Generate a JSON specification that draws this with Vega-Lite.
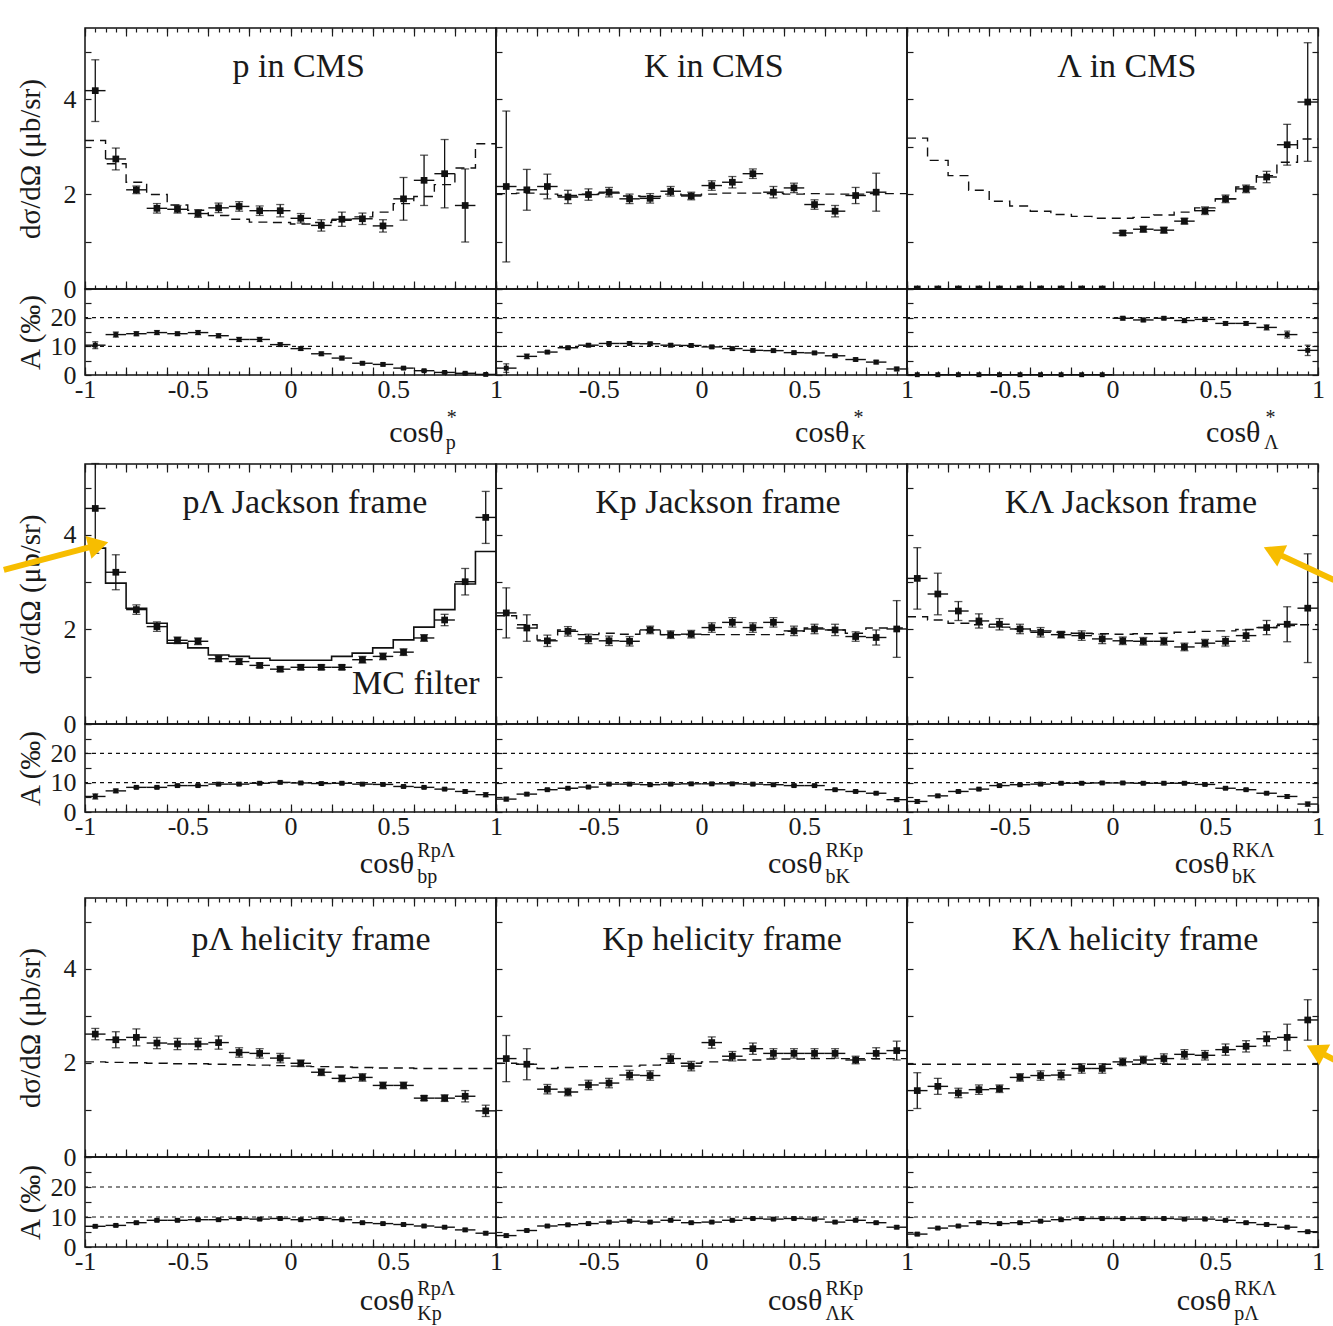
{
"$schema":"https://vega.github.io/schema/vega-lite/v6.json",
"background":"white",
"padding":{"left":0,"top":26,"right":0,"bottom":0},
"config":{"view":{"stroke":"#111","strokeWidth":1.5},"font":"Liberation Serif",
"axis":{"domain":false,"grid":false,"labelFont":"Liberation Serif","labelFontSize":26,"labelColor":"#1a1a1a","tickColor":"#1a1a1a","tickWidth":1.2,"titleFont":"Liberation Serif","titleFontSize":29,"titleFontWeight":"normal","titleColor":"#1a1a1a","labelFlush":false,"labelOverlap":false,"labelBound":false},
"text":{"font":"Liberation Serif","color":"#1a1a1a"}},
"datasets":{
"pts":[
{"p":1,"x":-0.95,"y":4.18,"e":0.65},{"p":1,"x":-0.85,"y":2.74,"e":0.23},{"p":1,"x":-0.75,"y":2.09,"e":0.08},{"p":1,"x":-0.65,"y":1.7,"e":0.1},{"p":1,"x":-0.55,"y":1.68,"e":0.08},{"p":1,"x":-0.45,"y":1.59,"e":0.08},{"p":1,"x":-0.35,"y":1.71,"e":0.1},{"p":1,"x":-0.25,"y":1.74,"e":0.1},{"p":1,"x":-0.15,"y":1.65,"e":0.1},{"p":1,"x":-0.05,"y":1.65,"e":0.13},{"p":1,"x":0.05,"y":1.49,"e":0.1},{"p":1,"x":0.15,"y":1.34,"e":0.12},{"p":1,"x":0.25,"y":1.47,"e":0.15},{"p":1,"x":0.35,"y":1.48,"e":0.12},{"p":1,"x":0.45,"y":1.33,"e":0.13},{"p":1,"x":0.55,"y":1.9,"e":0.45},{"p":1,"x":0.65,"y":2.29,"e":0.53},{"p":1,"x":0.75,"y":2.43,"e":0.72},{"p":1,"x":0.85,"y":1.76,"e":0.77},
{"p":2,"x":-0.95,"y":2.16,"e":1.59},{"p":2,"x":-0.85,"y":2.09,"e":0.43},{"p":2,"x":-0.75,"y":2.16,"e":0.26},{"p":2,"x":-0.65,"y":1.94,"e":0.14},{"p":2,"x":-0.55,"y":1.99,"e":0.12},{"p":2,"x":-0.45,"y":2.04,"e":0.1},{"p":2,"x":-0.35,"y":1.9,"e":0.1},{"p":2,"x":-0.25,"y":1.91,"e":0.1},{"p":2,"x":-0.15,"y":2.06,"e":0.1},{"p":2,"x":-0.05,"y":1.96,"e":0.08},{"p":2,"x":0.05,"y":2.18,"e":0.1},{"p":2,"x":0.15,"y":2.25,"e":0.12},{"p":2,"x":0.25,"y":2.43,"e":0.1},{"p":2,"x":0.35,"y":2.04,"e":0.12},{"p":2,"x":0.45,"y":2.13,"e":0.1},{"p":2,"x":0.55,"y":1.78,"e":0.1},{"p":2,"x":0.65,"y":1.64,"e":0.12},{"p":2,"x":0.75,"y":1.97,"e":0.17},{"p":2,"x":0.85,"y":2.04,"e":0.4},
{"p":3,"x":-0.95,"y":0,"e":0},{"p":3,"x":-0.85,"y":0,"e":0},{"p":3,"x":-0.75,"y":0,"e":0},{"p":3,"x":-0.65,"y":0,"e":0},{"p":3,"x":-0.55,"y":0,"e":0},{"p":3,"x":-0.45,"y":0,"e":0},{"p":3,"x":-0.35,"y":0,"e":0},{"p":3,"x":-0.25,"y":0,"e":0},{"p":3,"x":-0.15,"y":0,"e":0},{"p":3,"x":-0.05,"y":0,"e":0},{"p":3,"x":0.05,"y":1.18,"e":0.05},{"p":3,"x":0.15,"y":1.26,"e":0.06},{"p":3,"x":0.25,"y":1.24,"e":0.06},{"p":3,"x":0.35,"y":1.43,"e":0.06},{"p":3,"x":0.45,"y":1.65,"e":0.08},{"p":3,"x":0.55,"y":1.9,"e":0.08},{"p":3,"x":0.65,"y":2.11,"e":0.08},{"p":3,"x":0.75,"y":2.36,"e":0.12},{"p":3,"x":0.85,"y":3.04,"e":0.43},{"p":3,"x":0.95,"y":3.94,"e":1.25},
{"p":4,"x":-0.95,"y":4.56,"e":0.95},{"p":4,"x":-0.85,"y":3.21,"e":0.37},{"p":4,"x":-0.75,"y":2.42,"e":0.1},{"p":4,"x":-0.65,"y":2.06,"e":0.1},{"p":4,"x":-0.55,"y":1.77,"e":0.07},{"p":4,"x":-0.45,"y":1.75,"e":0.07},{"p":4,"x":-0.35,"y":1.38,"e":0.06},{"p":4,"x":-0.25,"y":1.32,"e":0.06},{"p":4,"x":-0.15,"y":1.24,"e":0.05},{"p":4,"x":-0.05,"y":1.16,"e":0.05},{"p":4,"x":0.05,"y":1.2,"e":0.05},{"p":4,"x":0.15,"y":1.2,"e":0.05},{"p":4,"x":0.25,"y":1.2,"e":0.05},{"p":4,"x":0.35,"y":1.36,"e":0.07},{"p":4,"x":0.45,"y":1.43,"e":0.07},{"p":4,"x":0.55,"y":1.52,"e":0.07},{"p":4,"x":0.65,"y":1.82,"e":0.07},{"p":4,"x":0.75,"y":2.2,"e":0.12},{"p":4,"x":0.85,"y":3.01,"e":0.28},{"p":4,"x":0.95,"y":4.37,"e":0.55},
{"p":5,"x":-0.95,"y":2.35,"e":0.53},{"p":5,"x":-0.85,"y":2.03,"e":0.28},{"p":5,"x":-0.75,"y":1.76,"e":0.12},{"p":5,"x":-0.65,"y":1.96,"e":0.1},{"p":5,"x":-0.55,"y":1.8,"e":0.1},{"p":5,"x":-0.45,"y":1.76,"e":0.1},{"p":5,"x":-0.35,"y":1.75,"e":0.1},{"p":5,"x":-0.25,"y":1.99,"e":0.08},{"p":5,"x":-0.15,"y":1.89,"e":0.08},{"p":5,"x":-0.05,"y":1.9,"e":0.08},{"p":5,"x":0.05,"y":2.04,"e":0.1},{"p":5,"x":0.15,"y":2.15,"e":0.1},{"p":5,"x":0.25,"y":2.04,"e":0.1},{"p":5,"x":0.35,"y":2.15,"e":0.1},{"p":5,"x":0.45,"y":1.97,"e":0.1},{"p":5,"x":0.55,"y":2.01,"e":0.1},{"p":5,"x":0.65,"y":1.99,"e":0.12},{"p":5,"x":0.75,"y":1.85,"e":0.1},{"p":5,"x":0.85,"y":1.83,"e":0.16},{"p":5,"x":0.95,"y":2.01,"e":0.6},
{"p":6,"x":-0.95,"y":3.08,"e":0.65},{"p":6,"x":-0.85,"y":2.75,"e":0.44},{"p":6,"x":-0.75,"y":2.39,"e":0.2},{"p":6,"x":-0.65,"y":2.18,"e":0.15},{"p":6,"x":-0.55,"y":2.11,"e":0.12},{"p":6,"x":-0.45,"y":2.01,"e":0.1},{"p":6,"x":-0.35,"y":1.94,"e":0.1},{"p":6,"x":-0.25,"y":1.89,"e":0.07},{"p":6,"x":-0.15,"y":1.87,"e":0.1},{"p":6,"x":-0.05,"y":1.8,"e":0.1},{"p":6,"x":0.05,"y":1.76,"e":0.08},{"p":6,"x":0.15,"y":1.75,"e":0.08},{"p":6,"x":0.25,"y":1.75,"e":0.08},{"p":6,"x":0.35,"y":1.63,"e":0.08},{"p":6,"x":0.45,"y":1.71,"e":0.08},{"p":6,"x":0.55,"y":1.75,"e":0.1},{"p":6,"x":0.65,"y":1.87,"e":0.12},{"p":6,"x":0.75,"y":2.04,"e":0.15},{"p":6,"x":0.85,"y":2.11,"e":0.37},{"p":6,"x":0.95,"y":2.45,"e":1.15},
{"p":7,"x":-0.95,"y":2.61,"e":0.12},{"p":7,"x":-0.85,"y":2.49,"e":0.17},{"p":7,"x":-0.75,"y":2.54,"e":0.18},{"p":7,"x":-0.65,"y":2.42,"e":0.12},{"p":7,"x":-0.55,"y":2.4,"e":0.12},{"p":7,"x":-0.45,"y":2.4,"e":0.12},{"p":7,"x":-0.35,"y":2.43,"e":0.14},{"p":7,"x":-0.25,"y":2.22,"e":0.1},{"p":7,"x":-0.15,"y":2.2,"e":0.1},{"p":7,"x":-0.05,"y":2.1,"e":0.1},{"p":7,"x":0.05,"y":1.99,"e":0.07},{"p":7,"x":0.15,"y":1.8,"e":0.07},{"p":7,"x":0.25,"y":1.67,"e":0.07},{"p":7,"x":0.35,"y":1.69,"e":0.08},{"p":7,"x":0.45,"y":1.52,"e":0.07},{"p":7,"x":0.55,"y":1.52,"e":0.07},{"p":7,"x":0.65,"y":1.25,"e":0.05},{"p":7,"x":0.75,"y":1.25,"e":0.07},{"p":7,"x":0.85,"y":1.29,"e":0.12},{"p":7,"x":0.95,"y":0.98,"e":0.12},
{"p":8,"x":-0.95,"y":2.09,"e":0.49},{"p":8,"x":-0.85,"y":1.97,"e":0.33},{"p":8,"x":-0.75,"y":1.44,"e":0.1},{"p":8,"x":-0.65,"y":1.38,"e":0.08},{"p":8,"x":-0.55,"y":1.53,"e":0.1},{"p":8,"x":-0.45,"y":1.57,"e":0.1},{"p":8,"x":-0.35,"y":1.74,"e":0.1},{"p":8,"x":-0.25,"y":1.73,"e":0.1},{"p":8,"x":-0.15,"y":2.09,"e":0.1},{"p":8,"x":-0.05,"y":1.93,"e":0.1},{"p":8,"x":0.05,"y":2.43,"e":0.12},{"p":8,"x":0.15,"y":2.14,"e":0.1},{"p":8,"x":0.25,"y":2.3,"e":0.12},{"p":8,"x":0.35,"y":2.2,"e":0.1},{"p":8,"x":0.45,"y":2.2,"e":0.1},{"p":8,"x":0.55,"y":2.2,"e":0.1},{"p":8,"x":0.65,"y":2.2,"e":0.1},{"p":8,"x":0.75,"y":2.06,"e":0.08},{"p":8,"x":0.85,"y":2.2,"e":0.12},{"p":8,"x":0.95,"y":2.26,"e":0.2},
{"p":9,"x":-0.95,"y":1.41,"e":0.38},{"p":9,"x":-0.85,"y":1.5,"e":0.17},{"p":9,"x":-0.75,"y":1.36,"e":0.1},{"p":9,"x":-0.65,"y":1.43,"e":0.1},{"p":9,"x":-0.55,"y":1.45,"e":0.08},{"p":9,"x":-0.45,"y":1.69,"e":0.08},{"p":9,"x":-0.35,"y":1.73,"e":0.1},{"p":9,"x":-0.25,"y":1.74,"e":0.1},{"p":9,"x":-0.15,"y":1.88,"e":0.1},{"p":9,"x":-0.05,"y":1.88,"e":0.1},{"p":9,"x":0.05,"y":2.02,"e":0.08},{"p":9,"x":0.15,"y":2.06,"e":0.08},{"p":9,"x":0.25,"y":2.09,"e":0.1},{"p":9,"x":0.35,"y":2.18,"e":0.1},{"p":9,"x":0.45,"y":2.16,"e":0.1},{"p":9,"x":0.55,"y":2.28,"e":0.12},{"p":9,"x":0.65,"y":2.35,"e":0.12},{"p":9,"x":0.75,"y":2.51,"e":0.15},{"p":9,"x":0.85,"y":2.54,"e":0.28},{"p":9,"x":0.95,"y":2.91,"e":0.43}
],
"mc":[
{"p":1,"x":-1,"v":3.13},{"p":1,"x":-0.9,"v":2.64},{"p":1,"x":-0.8,"v":2.25},{"p":1,"x":-0.7,"v":1.99},{"p":1,"x":-0.6,"v":1.77},{"p":1,"x":-0.5,"v":1.66},{"p":1,"x":-0.4,"v":1.55},{"p":1,"x":-0.3,"v":1.47},{"p":1,"x":-0.2,"v":1.41},{"p":1,"x":-0.1,"v":1.4},{"p":1,"x":0,"v":1.37},{"p":1,"x":0.1,"v":1.4},{"p":1,"x":0.2,"v":1.45},{"p":1,"x":0.3,"v":1.52},{"p":1,"x":0.4,"v":1.62},{"p":1,"x":0.5,"v":1.8},{"p":1,"x":0.6,"v":1.95},{"p":1,"x":0.7,"v":2.2},{"p":1,"x":0.8,"v":2.55},{"p":1,"x":0.9,"v":3.06},{"p":1,"x":1,"v":3.06},
{"p":2,"x":-1,"v":2.01},{"p":2,"x":-0.9,"v":2.02},{"p":2,"x":-0.8,"v":2.0},{"p":2,"x":-0.7,"v":1.97},{"p":2,"x":-0.6,"v":2.0},{"p":2,"x":-0.5,"v":2.02},{"p":2,"x":-0.4,"v":1.96},{"p":2,"x":-0.3,"v":1.95},{"p":2,"x":-0.2,"v":2.0},{"p":2,"x":-0.1,"v":1.98},{"p":2,"x":0,"v":2.0},{"p":2,"x":0.1,"v":2.02},{"p":2,"x":0.2,"v":2.02},{"p":2,"x":0.3,"v":2.01},{"p":2,"x":0.4,"v":2.0},{"p":2,"x":0.5,"v":2.01},{"p":2,"x":0.6,"v":2.0},{"p":2,"x":0.7,"v":2.0},{"p":2,"x":0.8,"v":2.01},{"p":2,"x":0.9,"v":2.01},{"p":2,"x":1,"v":2.01},
{"p":3,"x":-1,"v":3.18},{"p":3,"x":-0.9,"v":2.71},{"p":3,"x":-0.8,"v":2.39},{"p":3,"x":-0.7,"v":2.08},{"p":3,"x":-0.6,"v":1.85},{"p":3,"x":-0.5,"v":1.75},{"p":3,"x":-0.4,"v":1.64},{"p":3,"x":-0.3,"v":1.57},{"p":3,"x":-0.2,"v":1.53},{"p":3,"x":-0.1,"v":1.49},{"p":3,"x":0,"v":1.49},{"p":3,"x":0.1,"v":1.51},{"p":3,"x":0.2,"v":1.56},{"p":3,"x":0.3,"v":1.62},{"p":3,"x":0.4,"v":1.71},{"p":3,"x":0.5,"v":1.9},{"p":3,"x":0.6,"v":2.15},{"p":3,"x":0.7,"v":2.39},{"p":3,"x":0.8,"v":2.67},{"p":3,"x":0.9,"v":3.16},{"p":3,"x":1,"v":3.16},
{"p":4,"x":-1,"v":3.72},{"p":4,"x":-0.9,"v":2.98},{"p":4,"x":-0.8,"v":2.45},{"p":4,"x":-0.7,"v":2.13},{"p":4,"x":-0.6,"v":1.71},{"p":4,"x":-0.5,"v":1.61},{"p":4,"x":-0.4,"v":1.46},{"p":4,"x":-0.3,"v":1.43},{"p":4,"x":-0.2,"v":1.39},{"p":4,"x":-0.1,"v":1.35},{"p":4,"x":0,"v":1.35},{"p":4,"x":0.1,"v":1.35},{"p":4,"x":0.2,"v":1.43},{"p":4,"x":0.3,"v":1.5},{"p":4,"x":0.4,"v":1.61},{"p":4,"x":0.5,"v":1.78},{"p":4,"x":0.6,"v":2.05},{"p":4,"x":0.7,"v":2.42},{"p":4,"x":0.8,"v":2.96},{"p":4,"x":0.9,"v":3.65},{"p":4,"x":1,"v":3.65},
{"p":5,"x":-1,"v":2.29},{"p":5,"x":-0.9,"v":2.1},{"p":5,"x":-0.8,"v":1.78},{"p":5,"x":-0.7,"v":1.99},{"p":5,"x":-0.6,"v":1.89},{"p":5,"x":-0.5,"v":1.92},{"p":5,"x":-0.4,"v":1.9},{"p":5,"x":-0.3,"v":1.99},{"p":5,"x":-0.2,"v":1.89},{"p":5,"x":-0.1,"v":1.89},{"p":5,"x":0,"v":1.89},{"p":5,"x":0.1,"v":1.89},{"p":5,"x":0.2,"v":1.89},{"p":5,"x":0.3,"v":1.89},{"p":5,"x":0.4,"v":1.96},{"p":5,"x":0.5,"v":2.03},{"p":5,"x":0.6,"v":1.99},{"p":5,"x":0.7,"v":1.92},{"p":5,"x":0.8,"v":2.03},{"p":5,"x":0.9,"v":2.03},{"p":5,"x":1,"v":2.03},
{"p":6,"x":-1,"v":2.27},{"p":6,"x":-0.9,"v":2.2},{"p":6,"x":-0.8,"v":2.13},{"p":6,"x":-0.7,"v":2.1},{"p":6,"x":-0.6,"v":2.05},{"p":6,"x":-0.5,"v":2.01},{"p":6,"x":-0.4,"v":1.97},{"p":6,"x":-0.3,"v":1.94},{"p":6,"x":-0.2,"v":1.92},{"p":6,"x":-0.1,"v":1.91},{"p":6,"x":0,"v":1.9},{"p":6,"x":0.1,"v":1.91},{"p":6,"x":0.2,"v":1.92},{"p":6,"x":0.3,"v":1.94},{"p":6,"x":0.4,"v":1.96},{"p":6,"x":0.5,"v":1.97},{"p":6,"x":0.6,"v":2.0},{"p":6,"x":0.7,"v":2.04},{"p":6,"x":0.8,"v":2.08},{"p":6,"x":0.9,"v":2.1},{"p":6,"x":1,"v":2.1},
{"p":7,"x":-1,"v":2.02},{"p":7,"x":-0.9,"v":2.01},{"p":7,"x":-0.8,"v":2.0},{"p":7,"x":-0.7,"v":1.99},{"p":7,"x":-0.6,"v":1.98},{"p":7,"x":-0.5,"v":1.98},{"p":7,"x":-0.4,"v":1.97},{"p":7,"x":-0.3,"v":1.96},{"p":7,"x":-0.2,"v":1.95},{"p":7,"x":-0.1,"v":1.94},{"p":7,"x":0,"v":1.93},{"p":7,"x":0.1,"v":1.92},{"p":7,"x":0.2,"v":1.91},{"p":7,"x":0.3,"v":1.9},{"p":7,"x":0.4,"v":1.89},{"p":7,"x":0.5,"v":1.89},{"p":7,"x":0.6,"v":1.88},{"p":7,"x":0.7,"v":1.88},{"p":7,"x":0.8,"v":1.88},{"p":7,"x":0.9,"v":1.88},{"p":7,"x":1,"v":1.88},
{"p":8,"x":-1,"v":1.99},{"p":8,"x":-0.9,"v":1.97},{"p":8,"x":-0.8,"v":1.88},{"p":8,"x":-0.7,"v":1.9},{"p":8,"x":-0.6,"v":1.92},{"p":8,"x":-0.5,"v":1.92},{"p":8,"x":-0.4,"v":1.93},{"p":8,"x":-0.3,"v":1.95},{"p":8,"x":-0.2,"v":1.99},{"p":8,"x":-0.1,"v":1.99},{"p":8,"x":0,"v":2.02},{"p":8,"x":0.1,"v":2.06},{"p":8,"x":0.2,"v":2.06},{"p":8,"x":0.3,"v":2.08},{"p":8,"x":0.4,"v":2.08},{"p":8,"x":0.5,"v":2.09},{"p":8,"x":0.6,"v":2.09},{"p":8,"x":0.7,"v":2.09},{"p":8,"x":0.8,"v":2.09},{"p":8,"x":0.9,"v":2.09},{"p":8,"x":1,"v":2.09},
{"p":9,"x":-1,"v":1.97},{"p":9,"x":-0.9,"v":1.97},{"p":9,"x":-0.8,"v":1.97},{"p":9,"x":-0.7,"v":1.97},{"p":9,"x":-0.6,"v":1.97},{"p":9,"x":-0.5,"v":1.97},{"p":9,"x":-0.4,"v":1.97},{"p":9,"x":-0.3,"v":1.97},{"p":9,"x":-0.2,"v":1.97},{"p":9,"x":-0.1,"v":1.97},{"p":9,"x":0,"v":1.97},{"p":9,"x":0.1,"v":1.97},{"p":9,"x":0.2,"v":1.97},{"p":9,"x":0.3,"v":1.97},{"p":9,"x":0.4,"v":1.97},{"p":9,"x":0.5,"v":1.97},{"p":9,"x":0.6,"v":1.97},{"p":9,"x":0.7,"v":1.97},{"p":9,"x":0.8,"v":1.97},{"p":9,"x":0.9,"v":1.97},{"p":9,"x":1,"v":1.97}
],
"acc":[
{"p":1,"x":-0.95,"a":10.4,"e":1.2},{"p":1,"x":-0.85,"a":14.1,"e":0.9},{"p":1,"x":-0.75,"a":14.4,"e":0.7},{"p":1,"x":-0.65,"a":14.8,"e":0.7},{"p":1,"x":-0.55,"a":14.4,"e":0.6},{"p":1,"x":-0.45,"a":14.8,"e":0.7},{"p":1,"x":-0.35,"a":13.7,"e":0.7},{"p":1,"x":-0.25,"a":12.4,"e":0.7},{"p":1,"x":-0.15,"a":12.4,"e":0.7},{"p":1,"x":-0.05,"a":10.6,"e":0.6},{"p":1,"x":0.05,"a":9.2,"e":0.6},{"p":1,"x":0.15,"a":7.4,"e":0.6},{"p":1,"x":0.25,"a":5.9,"e":0.6},{"p":1,"x":0.35,"a":4.1,"e":0.5},{"p":1,"x":0.45,"a":3.7,"e":0.5},{"p":1,"x":0.55,"a":2.4,"e":0.4},{"p":1,"x":0.65,"a":1.5,"e":0.3},{"p":1,"x":0.75,"a":0.9,"e":0.3},{"p":1,"x":0.85,"a":0.6,"e":0.3},{"p":1,"x":0.95,"a":0.2,"e":0.2},
{"p":2,"x":-0.95,"a":2.4,"e":1.5},{"p":2,"x":-0.85,"a":6.5,"e":0.8},{"p":2,"x":-0.75,"a":8.0,"e":0.5},{"p":2,"x":-0.65,"a":9.5,"e":0.5},{"p":2,"x":-0.55,"a":10.4,"e":0.5},{"p":2,"x":-0.45,"a":11.0,"e":0.5},{"p":2,"x":-0.35,"a":11.0,"e":0.5},{"p":2,"x":-0.25,"a":10.9,"e":0.5},{"p":2,"x":-0.15,"a":10.4,"e":0.5},{"p":2,"x":-0.05,"a":10.3,"e":0.5},{"p":2,"x":0.05,"a":9.8,"e":0.5},{"p":2,"x":0.15,"a":9.2,"e":0.5},{"p":2,"x":0.25,"a":8.6,"e":0.5},{"p":2,"x":0.35,"a":8.5,"e":0.5},{"p":2,"x":0.45,"a":7.8,"e":0.5},{"p":2,"x":0.55,"a":7.7,"e":0.5},{"p":2,"x":0.65,"a":6.7,"e":0.5},{"p":2,"x":0.75,"a":5.4,"e":0.5},{"p":2,"x":0.85,"a":4.5,"e":0.6},{"p":2,"x":0.95,"a":2.1,"e":0.6},
{"p":3,"x":-0.95,"a":0.1,"e":0},{"p":3,"x":-0.85,"a":0.1,"e":0},{"p":3,"x":-0.75,"a":0.1,"e":0},{"p":3,"x":-0.65,"a":0.1,"e":0},{"p":3,"x":-0.55,"a":0.1,"e":0},{"p":3,"x":-0.45,"a":0.1,"e":0},{"p":3,"x":-0.35,"a":0.1,"e":0},{"p":3,"x":-0.25,"a":0.1,"e":0},{"p":3,"x":-0.15,"a":0.1,"e":0},{"p":3,"x":-0.05,"a":0.1,"e":0},{"p":3,"x":0.05,"a":19.8,"e":0.6},{"p":3,"x":0.15,"a":19.2,"e":0.6},{"p":3,"x":0.25,"a":19.8,"e":0.5},{"p":3,"x":0.35,"a":19.0,"e":0.7},{"p":3,"x":0.45,"a":19.4,"e":0.7},{"p":3,"x":0.55,"a":18.0,"e":0.6},{"p":3,"x":0.65,"a":18.0,"e":0.6},{"p":3,"x":0.75,"a":16.6,"e":0.9},{"p":3,"x":0.85,"a":14.1,"e":1.2},{"p":3,"x":0.95,"a":8.6,"e":1.8},
{"p":4,"x":-0.95,"a":5.3,"e":0.9},{"p":4,"x":-0.85,"a":7.2,"e":0.6},{"p":4,"x":-0.75,"a":8.4,"e":0.4},{"p":4,"x":-0.65,"a":8.4,"e":0.4},{"p":4,"x":-0.55,"a":9.0,"e":0.4},{"p":4,"x":-0.45,"a":9.0,"e":0.4},{"p":4,"x":-0.35,"a":9.5,"e":0.4},{"p":4,"x":-0.25,"a":9.5,"e":0.4},{"p":4,"x":-0.15,"a":9.8,"e":0.4},{"p":4,"x":-0.05,"a":10.1,"e":0.4},{"p":4,"x":0.05,"a":9.9,"e":0.4},{"p":4,"x":0.15,"a":9.7,"e":0.4},{"p":4,"x":0.25,"a":9.8,"e":0.4},{"p":4,"x":0.35,"a":9.5,"e":0.4},{"p":4,"x":0.45,"a":9.4,"e":0.4},{"p":4,"x":0.55,"a":8.7,"e":0.4},{"p":4,"x":0.65,"a":8.4,"e":0.4},{"p":4,"x":0.75,"a":7.8,"e":0.4},{"p":4,"x":0.85,"a":7.0,"e":0.5},{"p":4,"x":0.95,"a":5.9,"e":0.7},
{"p":5,"x":-0.95,"a":4.4,"e":0.6},{"p":5,"x":-0.85,"a":6.1,"e":0.5},{"p":5,"x":-0.75,"a":7.6,"e":0.4},{"p":5,"x":-0.65,"a":8.1,"e":0.4},{"p":5,"x":-0.55,"a":8.5,"e":0.4},{"p":5,"x":-0.45,"a":9.5,"e":0.4},{"p":5,"x":-0.35,"a":9.5,"e":0.4},{"p":5,"x":-0.25,"a":9.3,"e":0.4},{"p":5,"x":-0.15,"a":9.5,"e":0.4},{"p":5,"x":-0.05,"a":9.6,"e":0.4},{"p":5,"x":0.05,"a":9.6,"e":0.4},{"p":5,"x":0.15,"a":9.6,"e":0.4},{"p":5,"x":0.25,"a":9.5,"e":0.4},{"p":5,"x":0.35,"a":9.3,"e":0.4},{"p":5,"x":0.45,"a":9.0,"e":0.4},{"p":5,"x":0.55,"a":9.0,"e":0.4},{"p":5,"x":0.65,"a":7.6,"e":0.4},{"p":5,"x":0.75,"a":7.0,"e":0.4},{"p":5,"x":0.85,"a":6.4,"e":0.4},{"p":5,"x":0.95,"a":4.2,"e":0.6},
{"p":6,"x":-0.95,"a":3.6,"e":0.6},{"p":6,"x":-0.85,"a":5.5,"e":0.5},{"p":6,"x":-0.75,"a":7.0,"e":0.4},{"p":6,"x":-0.65,"a":7.8,"e":0.4},{"p":6,"x":-0.55,"a":9.0,"e":0.4},{"p":6,"x":-0.45,"a":9.3,"e":0.4},{"p":6,"x":-0.35,"a":9.5,"e":0.4},{"p":6,"x":-0.25,"a":9.8,"e":0.4},{"p":6,"x":-0.15,"a":9.8,"e":0.4},{"p":6,"x":-0.05,"a":9.9,"e":0.4},{"p":6,"x":0.05,"a":9.9,"e":0.4},{"p":6,"x":0.15,"a":9.8,"e":0.4},{"p":6,"x":0.25,"a":9.8,"e":0.4},{"p":6,"x":0.35,"a":9.8,"e":0.4},{"p":6,"x":0.45,"a":9.4,"e":0.4},{"p":6,"x":0.55,"a":8.1,"e":0.4},{"p":6,"x":0.65,"a":7.6,"e":0.4},{"p":6,"x":0.75,"a":6.4,"e":0.4},{"p":6,"x":0.85,"a":5.3,"e":0.6},{"p":6,"x":0.95,"a":2.7,"e":0.7},
{"p":7,"x":-0.95,"a":6.9,"e":0.4},{"p":7,"x":-0.85,"a":7.2,"e":0.4},{"p":7,"x":-0.75,"a":8.1,"e":0.4},{"p":7,"x":-0.65,"a":8.9,"e":0.4},{"p":7,"x":-0.55,"a":8.9,"e":0.4},{"p":7,"x":-0.45,"a":9.1,"e":0.4},{"p":7,"x":-0.35,"a":9.1,"e":0.4},{"p":7,"x":-0.25,"a":9.5,"e":0.4},{"p":7,"x":-0.15,"a":9.3,"e":0.4},{"p":7,"x":-0.05,"a":9.5,"e":0.4},{"p":7,"x":0.05,"a":9.1,"e":0.4},{"p":7,"x":0.15,"a":9.5,"e":0.4},{"p":7,"x":0.25,"a":9.1,"e":0.4},{"p":7,"x":0.35,"a":8.1,"e":0.4},{"p":7,"x":0.45,"a":7.8,"e":0.4},{"p":7,"x":0.55,"a":7.5,"e":0.4},{"p":7,"x":0.65,"a":7.0,"e":0.4},{"p":7,"x":0.75,"a":6.6,"e":0.4},{"p":7,"x":0.85,"a":5.7,"e":0.5},{"p":7,"x":0.95,"a":4.6,"e":0.5},
{"p":8,"x":-0.95,"a":3.8,"e":0.5},{"p":8,"x":-0.85,"a":5.5,"e":0.4},{"p":8,"x":-0.75,"a":7.0,"e":0.4},{"p":8,"x":-0.65,"a":7.4,"e":0.4},{"p":8,"x":-0.55,"a":7.8,"e":0.4},{"p":8,"x":-0.45,"a":8.3,"e":0.4},{"p":8,"x":-0.35,"a":8.6,"e":0.4},{"p":8,"x":-0.25,"a":8.3,"e":0.4},{"p":8,"x":-0.15,"a":8.9,"e":0.4},{"p":8,"x":-0.05,"a":8.1,"e":0.4},{"p":8,"x":0.05,"a":8.3,"e":0.4},{"p":8,"x":0.15,"a":8.9,"e":0.4},{"p":8,"x":0.25,"a":9.5,"e":0.4},{"p":8,"x":0.35,"a":9.3,"e":0.4},{"p":8,"x":0.45,"a":9.5,"e":0.4},{"p":8,"x":0.55,"a":9.3,"e":0.4},{"p":8,"x":0.65,"a":8.3,"e":0.4},{"p":8,"x":0.75,"a":8.9,"e":0.4},{"p":8,"x":0.85,"a":8.1,"e":0.4},{"p":8,"x":0.95,"a":6.6,"e":0.5},
{"p":9,"x":-0.95,"a":4.3,"e":0.5},{"p":9,"x":-0.85,"a":6.3,"e":0.4},{"p":9,"x":-0.75,"a":7.0,"e":0.4},{"p":9,"x":-0.65,"a":8.1,"e":0.4},{"p":9,"x":-0.55,"a":7.8,"e":0.4},{"p":9,"x":-0.45,"a":8.1,"e":0.4},{"p":9,"x":-0.35,"a":8.6,"e":0.4},{"p":9,"x":-0.25,"a":9.1,"e":0.4},{"p":9,"x":-0.15,"a":9.5,"e":0.4},{"p":9,"x":-0.05,"a":9.5,"e":0.4},{"p":9,"x":0.05,"a":9.5,"e":0.4},{"p":9,"x":0.15,"a":9.5,"e":0.4},{"p":9,"x":0.25,"a":9.5,"e":0.4},{"p":9,"x":0.35,"a":9.3,"e":0.4},{"p":9,"x":0.45,"a":9.3,"e":0.4},{"p":9,"x":0.55,"a":8.9,"e":0.4},{"p":9,"x":0.65,"a":8.1,"e":0.4},{"p":9,"x":0.75,"a":7.5,"e":0.4},{"p":9,"x":0.85,"a":6.6,"e":0.4},{"p":9,"x":0.95,"a":5.1,"e":0.4}
]},
"concat":[
{"width":411,"height":261,"layer":[
{"data":{"name":"mc"},"transform":[{"filter":"datum.p==1"}],"mark":{"type":"line","interpolate":"step-after","color":"#111","strokeWidth":1.4,"strokeDash":[9,6]},"encoding":{"x":{"field":"x","type":"quantitative","scale":{"domain":[-1,1],"nice":false,"zero":false},"axis":{"orient":"bottom","values":[-1,-0.95,-0.9,-0.85,-0.8,-0.75,-0.7,-0.65,-0.6,-0.55,-0.5,-0.45,-0.4,-0.35,-0.3,-0.25,-0.2,-0.15,-0.1,-0.05,0,0.05,0.1,0.15,0.2,0.25,0.3,0.35,0.4,0.45,0.5,0.55,0.6,0.65,0.7,0.75,0.8,0.85,0.9,0.95,1],"tickSize":-4,"labels":false,"title":null}},"y":{"field":"v","type":"quantitative","scale":{"domain":[0,5.5],"nice":false,"zero":false},"axis":{"orient":"left","values":[0,1,2,3,4,5],"tickSize":-6,"labelPadding":15,"labelExpr":"datum.value%2==0 ? datum.label : ''","title":"dσ/dΩ (μb/sr)","titleX":-40,"titleBaseline":"bottom"}}}},
{"data":{"name":"pts"},"transform":[{"filter":"datum.p==1"}],"mark":{"type":"errorbar","ticks":{"size":8,"color":"#111"},"rule":{"color":"#111"},"thickness":1.3},"encoding":{"x":{"field":"x","type":"quantitative","axis":{"orient":"top","values":[-1,-0.8,-0.6,-0.4,-0.2,0,0.2,0.4,0.6,0.8,1],"tickSize":-8,"labels":false,"title":null}},"y":{"field":"y","type":"quantitative","axis":null},"yError":{"field":"e"}}},
{"data":{"name":"pts"},"transform":[{"filter":"datum.p==1"}],"mark":{"type":"tick","orient":"horizontal","size":20.5,"thickness":1.4,"color":"#111","opacity":1},"encoding":{"x":{"field":"x","type":"quantitative","axis":null},"y":{"field":"y","type":"quantitative","axis":null}}},
{"data":{"name":"pts"},"transform":[{"filter":"datum.p==1"}],"mark":{"type":"square","size":45,"filled":true,"color":"#111","opacity":1,"clip":true},"encoding":{"x":{"field":"x","type":"quantitative","axis":{"orient":"bottom","values":[-1,-0.8,-0.6,-0.4,-0.2,0,0.2,0.4,0.6,0.8,1],"tickSize":-8,"labels":false,"title":null}},"y":{"field":"y","type":"quantitative","axis":null}}},
{"data":{"values":[{}]},"mark":{"type":"text","text":"p in CMS","fontSize":34,"baseline":"middle","align":"center"},"encoding":{"x":{"datum":0.04,"axis":{"orient":"top","values":[-1,-0.95,-0.9,-0.85,-0.8,-0.75,-0.7,-0.65,-0.6,-0.55,-0.5,-0.45,-0.4,-0.35,-0.3,-0.25,-0.2,-0.15,-0.1,-0.05,0,0.05,0.1,0.15,0.2,0.25,0.3,0.35,0.4,0.45,0.5,0.55,0.6,0.65,0.7,0.75,0.8,0.85,0.9,0.95,1],"tickSize":-4,"labels":false,"title":null}},"y":{"datum":4.67,"axis":null}}}
],"resolve":{"axis":{"x":"independent","y":"independent"}}},
{"width":411,"height":261,"layer":[
{"data":{"name":"mc"},"transform":[{"filter":"datum.p==2"}],"mark":{"type":"line","interpolate":"step-after","color":"#111","strokeWidth":1.4,"strokeDash":[9,6]},"encoding":{"x":{"field":"x","type":"quantitative","scale":{"domain":[-1,1],"nice":false,"zero":false},"axis":{"orient":"bottom","values":[-1,-0.95,-0.9,-0.85,-0.8,-0.75,-0.7,-0.65,-0.6,-0.55,-0.5,-0.45,-0.4,-0.35,-0.3,-0.25,-0.2,-0.15,-0.1,-0.05,0,0.05,0.1,0.15,0.2,0.25,0.3,0.35,0.4,0.45,0.5,0.55,0.6,0.65,0.7,0.75,0.8,0.85,0.9,0.95,1],"tickSize":-4,"labels":false,"title":null}},"y":{"field":"v","type":"quantitative","scale":{"domain":[0,5.5],"nice":false,"zero":false},"axis":{"orient":"left","values":[0,1,2,3,4,5],"tickSize":-6,"labels":false,"title":null}}}},
{"data":{"name":"pts"},"transform":[{"filter":"datum.p==2"}],"mark":{"type":"errorbar","ticks":{"size":8,"color":"#111"},"rule":{"color":"#111"},"thickness":1.3},"encoding":{"x":{"field":"x","type":"quantitative","axis":{"orient":"top","values":[-1,-0.8,-0.6,-0.4,-0.2,0,0.2,0.4,0.6,0.8,1],"tickSize":-8,"labels":false,"title":null}},"y":{"field":"y","type":"quantitative","axis":null},"yError":{"field":"e"}}},
{"data":{"name":"pts"},"transform":[{"filter":"datum.p==2"}],"mark":{"type":"tick","orient":"horizontal","size":20.5,"thickness":1.4,"color":"#111","opacity":1},"encoding":{"x":{"field":"x","type":"quantitative","axis":null},"y":{"field":"y","type":"quantitative","axis":null}}},
{"data":{"name":"pts"},"transform":[{"filter":"datum.p==2"}],"mark":{"type":"square","size":45,"filled":true,"color":"#111","opacity":1,"clip":true},"encoding":{"x":{"field":"x","type":"quantitative","axis":{"orient":"bottom","values":[-1,-0.8,-0.6,-0.4,-0.2,0,0.2,0.4,0.6,0.8,1],"tickSize":-8,"labels":false,"title":null}},"y":{"field":"y","type":"quantitative","axis":null}}},
{"data":{"values":[{}]},"mark":{"type":"text","text":"K in CMS","fontSize":34,"baseline":"middle","align":"center"},"encoding":{"x":{"datum":0.06,"axis":{"orient":"top","values":[-1,-0.95,-0.9,-0.85,-0.8,-0.75,-0.7,-0.65,-0.6,-0.55,-0.5,-0.45,-0.4,-0.35,-0.3,-0.25,-0.2,-0.15,-0.1,-0.05,0,0.05,0.1,0.15,0.2,0.25,0.3,0.35,0.4,0.45,0.5,0.55,0.6,0.65,0.7,0.75,0.8,0.85,0.9,0.95,1],"tickSize":-4,"labels":false,"title":null}},"y":{"datum":4.67,"axis":null}}}
],"resolve":{"axis":{"x":"independent","y":"independent"}}},
{"width":411,"height":261,"layer":[
{"data":{"name":"mc"},"transform":[{"filter":"datum.p==3"}],"mark":{"type":"line","interpolate":"step-after","color":"#111","strokeWidth":1.4,"strokeDash":[9,6]},"encoding":{"x":{"field":"x","type":"quantitative","scale":{"domain":[-1,1],"nice":false,"zero":false},"axis":{"orient":"bottom","values":[-1,-0.95,-0.9,-0.85,-0.8,-0.75,-0.7,-0.65,-0.6,-0.55,-0.5,-0.45,-0.4,-0.35,-0.3,-0.25,-0.2,-0.15,-0.1,-0.05,0,0.05,0.1,0.15,0.2,0.25,0.3,0.35,0.4,0.45,0.5,0.55,0.6,0.65,0.7,0.75,0.8,0.85,0.9,0.95,1],"tickSize":-4,"labels":false,"title":null}},"y":{"field":"v","type":"quantitative","scale":{"domain":[0,5.5],"nice":false,"zero":false},"axis":{"orient":"left","values":[0,1,2,3,4,5],"tickSize":-6,"labels":false,"title":null}}}},
{"data":{"name":"pts"},"transform":[{"filter":"datum.p==3"}],"mark":{"type":"errorbar","ticks":{"size":8,"color":"#111"},"rule":{"color":"#111"},"thickness":1.3},"encoding":{"x":{"field":"x","type":"quantitative","axis":{"orient":"top","values":[-1,-0.8,-0.6,-0.4,-0.2,0,0.2,0.4,0.6,0.8,1],"tickSize":-8,"labels":false,"title":null}},"y":{"field":"y","type":"quantitative","axis":null},"yError":{"field":"e"}}},
{"data":{"name":"pts"},"transform":[{"filter":"datum.p==3"}],"mark":{"type":"tick","orient":"horizontal","size":20.5,"thickness":1.4,"color":"#111","opacity":1},"encoding":{"x":{"field":"x","type":"quantitative","axis":null},"y":{"field":"y","type":"quantitative","axis":null}}},
{"data":{"name":"pts"},"transform":[{"filter":"datum.p==3"}],"mark":{"type":"square","size":45,"filled":true,"color":"#111","opacity":1,"clip":true},"encoding":{"x":{"field":"x","type":"quantitative","axis":{"orient":"bottom","values":[-1,-0.8,-0.6,-0.4,-0.2,0,0.2,0.4,0.6,0.8,1],"tickSize":-8,"labels":false,"title":null}},"y":{"field":"y","type":"quantitative","axis":{"orient":"right","values":[0,1,2,3,4,5],"tickSize":-6,"labels":false,"title":null}}}},
{"data":{"values":[{}]},"mark":{"type":"text","text":"Λ in CMS","fontSize":34,"baseline":"middle","align":"center"},"encoding":{"x":{"datum":0.07,"axis":{"orient":"top","values":[-1,-0.95,-0.9,-0.85,-0.8,-0.75,-0.7,-0.65,-0.6,-0.55,-0.5,-0.45,-0.4,-0.35,-0.3,-0.25,-0.2,-0.15,-0.1,-0.05,0,0.05,0.1,0.15,0.2,0.25,0.3,0.35,0.4,0.45,0.5,0.55,0.6,0.65,0.7,0.75,0.8,0.85,0.9,0.95,1],"tickSize":-4,"labels":false,"title":null}},"y":{"datum":4.67,"axis":null}}}
],"resolve":{"axis":{"x":"independent","y":"independent"}}},
{"width":411,"height":86,"layer":[
{"data":{"values":[{}]},"mark":{"type":"rule","strokeDash":[4,4],"color":"#111","strokeWidth":1.2},"encoding":{"y":{"datum":10,"scale":{"domain":[0,30],"nice":false,"zero":false},"axis":null}}},
{"data":{"values":[{}]},"mark":{"type":"rule","strokeDash":[4,4],"color":"#111","strokeWidth":1.2},"encoding":{"y":{"datum":20,"axis":null}}},
{"data":{"name":"acc"},"transform":[{"filter":"datum.p==1"}],"mark":{"type":"errorbar","ticks":{"size":6,"color":"#111"},"rule":{"color":"#111"},"thickness":1.3},"encoding":{"x":{"field":"x","type":"quantitative","scale":{"domain":[-1,1],"nice":false,"zero":false},"axis":null},"y":{"field":"a","type":"quantitative","axis":null},"yError":{"field":"e"}}},
{"data":{"name":"acc"},"transform":[{"filter":"datum.p==1"}],"mark":{"type":"tick","orient":"horizontal","size":20.5,"thickness":1.4,"color":"#111","opacity":1},"encoding":{"x":{"field":"x","type":"quantitative","axis":null},"y":{"field":"a","type":"quantitative","axis":null}}},
{"data":{"name":"acc"},"transform":[{"filter":"datum.p==1"}],"mark":{"type":"square","size":24,"filled":true,"color":"#111","opacity":1},"encoding":{"x":{"field":"x","type":"quantitative","axis":{"orient":"bottom","values":[-1,-0.5,0,0.5,1],"ticks":false,"labelPadding":1,"labelExpr":"datum.value==-1 ? '-1' : datum.value==-0.5 ? '-0.5' : datum.value==0 ? '0' : datum.value==0.5 ? '0.5' : ''","title":null}},"y":{"field":"a","type":"quantitative","scale":{"domain":[0,30],"nice":false,"zero":false},"axis":{"orient":"left","values":[0,5,10,15,20,25,30],"tickSize":-6,"labelPadding":15,"labelExpr":"datum.value==0||datum.value==10||datum.value==20 ? datum.label : ''","title":"A (‰)","titleX":-40,"titleBaseline":"bottom"}}}},
{"data":{"values":[{}]},"mark":{"type":"text","text":"cosθ","fontSize":30,"align":"right","baseline":"alphabetic","dy":67},"encoding":{"x":{"datum":0.745,"axis":{"orient":"bottom","values":[-1,-0.95,-0.9,-0.85,-0.8,-0.75,-0.7,-0.65,-0.6,-0.55,-0.5,-0.45,-0.4,-0.35,-0.3,-0.25,-0.2,-0.15,-0.1,-0.05,0,0.05,0.1,0.15,0.2,0.25,0.3,0.35,0.4,0.45,0.5,0.55,0.6,0.65,0.7,0.75,0.8,0.85,0.9,0.95,1],"tickSize":-4,"labels":false,"title":null}},"y":{"datum":0,"axis":null}}},
{"data":{"values":[{}]},"mark":{"type":"text","text":"*","fontSize":20,"align":"left","baseline":"alphabetic","dy":49},"encoding":{"x":{"datum":0.76,"axis":{"orient":"bottom","values":[-1,-0.8,-0.6,-0.4,-0.2,0,0.2,0.4,0.6,0.8,1],"tickSize":-8,"labels":false,"title":null}},"y":{"datum":0,"axis":null}}},
{"data":{"values":[{}]},"mark":{"type":"text","text":"p","fontSize":20,"align":"left","baseline":"alphabetic","dy":74},"encoding":{"x":{"datum":0.755,"axis":null},"y":{"datum":0,"axis":null}}}
],"resolve":{"axis":{"x":"independent","y":"independent"}}},
{"width":411,"height":86,"layer":[
{"data":{"values":[{}]},"mark":{"type":"rule","strokeDash":[4,4],"color":"#111","strokeWidth":1.2},"encoding":{"y":{"datum":10,"scale":{"domain":[0,30],"nice":false,"zero":false},"axis":null}}},
{"data":{"values":[{}]},"mark":{"type":"rule","strokeDash":[4,4],"color":"#111","strokeWidth":1.2},"encoding":{"y":{"datum":20,"axis":null}}},
{"data":{"name":"acc"},"transform":[{"filter":"datum.p==2"}],"mark":{"type":"errorbar","ticks":{"size":6,"color":"#111"},"rule":{"color":"#111"},"thickness":1.3},"encoding":{"x":{"field":"x","type":"quantitative","scale":{"domain":[-1,1],"nice":false,"zero":false},"axis":null},"y":{"field":"a","type":"quantitative","axis":null},"yError":{"field":"e"}}},
{"data":{"name":"acc"},"transform":[{"filter":"datum.p==2"}],"mark":{"type":"tick","orient":"horizontal","size":20.5,"thickness":1.4,"color":"#111","opacity":1},"encoding":{"x":{"field":"x","type":"quantitative","axis":null},"y":{"field":"a","type":"quantitative","axis":null}}},
{"data":{"name":"acc"},"transform":[{"filter":"datum.p==2"}],"mark":{"type":"square","size":24,"filled":true,"color":"#111","opacity":1},"encoding":{"x":{"field":"x","type":"quantitative","axis":{"orient":"bottom","values":[-1,-0.5,0,0.5,1],"ticks":false,"labelPadding":1,"labelExpr":"datum.value==-1 ? '1' : datum.value==-0.5 ? '-0.5' : datum.value==0 ? '0' : datum.value==0.5 ? '0.5' : ''","title":null}},"y":{"field":"a","type":"quantitative","scale":{"domain":[0,30],"nice":false,"zero":false},"axis":{"orient":"left","values":[0,5,10,15,20,25,30],"tickSize":-6,"labels":false,"title":null}}}},
{"data":{"values":[{}]},"mark":{"type":"text","text":"cosθ","fontSize":30,"align":"right","baseline":"alphabetic","dy":67},"encoding":{"x":{"datum":0.72,"axis":{"orient":"bottom","values":[-1,-0.95,-0.9,-0.85,-0.8,-0.75,-0.7,-0.65,-0.6,-0.55,-0.5,-0.45,-0.4,-0.35,-0.3,-0.25,-0.2,-0.15,-0.1,-0.05,0,0.05,0.1,0.15,0.2,0.25,0.3,0.35,0.4,0.45,0.5,0.55,0.6,0.65,0.7,0.75,0.8,0.85,0.9,0.95,1],"tickSize":-4,"labels":false,"title":null}},"y":{"datum":0,"axis":null}}},
{"data":{"values":[{}]},"mark":{"type":"text","text":"*","fontSize":20,"align":"left","baseline":"alphabetic","dy":49},"encoding":{"x":{"datum":0.74,"axis":{"orient":"bottom","values":[-1,-0.8,-0.6,-0.4,-0.2,0,0.2,0.4,0.6,0.8,1],"tickSize":-8,"labels":false,"title":null}},"y":{"datum":0,"axis":null}}},
{"data":{"values":[{}]},"mark":{"type":"text","text":"K","fontSize":20,"align":"left","baseline":"alphabetic","dy":74},"encoding":{"x":{"datum":0.73,"axis":null},"y":{"datum":0,"axis":null}}}
],"resolve":{"axis":{"x":"independent","y":"independent"}}},
{"width":411,"height":86,"layer":[
{"data":{"values":[{}]},"mark":{"type":"rule","strokeDash":[4,4],"color":"#111","strokeWidth":1.2},"encoding":{"y":{"datum":10,"scale":{"domain":[0,30],"nice":false,"zero":false},"axis":null}}},
{"data":{"values":[{}]},"mark":{"type":"rule","strokeDash":[4,4],"color":"#111","strokeWidth":1.2},"encoding":{"y":{"datum":20,"axis":null}}},
{"data":{"name":"acc"},"transform":[{"filter":"datum.p==3"}],"mark":{"type":"errorbar","ticks":{"size":6,"color":"#111"},"rule":{"color":"#111"},"thickness":1.3},"encoding":{"x":{"field":"x","type":"quantitative","scale":{"domain":[-1,1],"nice":false,"zero":false},"axis":null},"y":{"field":"a","type":"quantitative","axis":null},"yError":{"field":"e"}}},
{"data":{"name":"acc"},"transform":[{"filter":"datum.p==3"}],"mark":{"type":"tick","orient":"horizontal","size":20.5,"thickness":1.4,"color":"#111","opacity":1},"encoding":{"x":{"field":"x","type":"quantitative","axis":null},"y":{"field":"a","type":"quantitative","axis":null}}},
{"data":{"name":"acc"},"transform":[{"filter":"datum.p==3"}],"mark":{"type":"square","size":24,"filled":true,"color":"#111","opacity":1},"encoding":{"x":{"field":"x","type":"quantitative","axis":{"orient":"bottom","values":[-1,-0.5,0,0.5,1],"ticks":false,"labelPadding":1,"labelExpr":"datum.value==-1 ? '1' : datum.value==-0.5 ? '-0.5' : datum.value==0 ? '0' : datum.value==0.5 ? '0.5' : '1'","title":null}},"y":{"field":"a","type":"quantitative","scale":{"domain":[0,30],"nice":false,"zero":false},"axis":{"orient":"left","values":[0,5,10,15,20,25,30],"tickSize":-6,"labels":false,"title":null}}}},
{"data":{"values":[{}]},"mark":{"type":"text","text":"cosθ","fontSize":30,"align":"right","baseline":"alphabetic","dy":67},"encoding":{"x":{"datum":0.72,"axis":{"orient":"bottom","values":[-1,-0.95,-0.9,-0.85,-0.8,-0.75,-0.7,-0.65,-0.6,-0.55,-0.5,-0.45,-0.4,-0.35,-0.3,-0.25,-0.2,-0.15,-0.1,-0.05,0,0.05,0.1,0.15,0.2,0.25,0.3,0.35,0.4,0.45,0.5,0.55,0.6,0.65,0.7,0.75,0.8,0.85,0.9,0.95,1],"tickSize":-4,"labels":false,"title":null}},"y":{"datum":0,"axis":{"orient":"right","values":[0,5,10,15,20,25,30],"tickSize":-6,"labels":false,"title":null}}}},
{"data":{"values":[{}]},"mark":{"type":"text","text":"*","fontSize":20,"align":"left","baseline":"alphabetic","dy":49},"encoding":{"x":{"datum":0.745,"axis":{"orient":"bottom","values":[-1,-0.8,-0.6,-0.4,-0.2,0,0.2,0.4,0.6,0.8,1],"tickSize":-8,"labels":false,"title":null}},"y":{"datum":0,"axis":null}}},
{"data":{"values":[{}]},"mark":{"type":"text","text":"Λ","fontSize":20,"align":"left","baseline":"alphabetic","dy":74},"encoding":{"x":{"datum":0.737,"axis":null},"y":{"datum":0,"axis":null}}}
],"resolve":{"axis":{"x":"independent","y":"independent"}}},
{"width":411,"height":89,"data":{"values":[]},"mark":"point","view":{"stroke":null}},
{"width":411,"height":89,"data":{"values":[]},"mark":"point","view":{"stroke":null}},
{"width":411,"height":89,"data":{"values":[]},"mark":"point","view":{"stroke":null}},
{"width":411,"height":260,"layer":[
{"data":{"name":"mc"},"transform":[{"filter":"datum.p==4"}],"mark":{"type":"line","interpolate":"step-after","color":"#111","strokeWidth":1.6},"encoding":{"x":{"field":"x","type":"quantitative","scale":{"domain":[-1,1],"nice":false,"zero":false},"axis":{"orient":"bottom","values":[-1,-0.95,-0.9,-0.85,-0.8,-0.75,-0.7,-0.65,-0.6,-0.55,-0.5,-0.45,-0.4,-0.35,-0.3,-0.25,-0.2,-0.15,-0.1,-0.05,0,0.05,0.1,0.15,0.2,0.25,0.3,0.35,0.4,0.45,0.5,0.55,0.6,0.65,0.7,0.75,0.8,0.85,0.9,0.95,1],"tickSize":-4,"labels":false,"title":null}},"y":{"field":"v","type":"quantitative","scale":{"domain":[0,5.5],"nice":false,"zero":false},"axis":{"orient":"left","values":[0,1,2,3,4,5],"tickSize":-6,"labelPadding":15,"labelExpr":"datum.value%2==0 ? datum.label : ''","title":"dσ/dΩ (μb/sr)","titleX":-40,"titleBaseline":"bottom"}}}},
{"data":{"name":"pts"},"transform":[{"filter":"datum.p==4"}],"mark":{"type":"errorbar","ticks":{"size":8,"color":"#111"},"rule":{"color":"#111"},"thickness":1.3},"encoding":{"x":{"field":"x","type":"quantitative","axis":{"orient":"top","values":[-1,-0.8,-0.6,-0.4,-0.2,0,0.2,0.4,0.6,0.8,1],"tickSize":-8,"labels":false,"title":null}},"y":{"field":"y","type":"quantitative","axis":null},"yError":{"field":"e"}}},
{"data":{"name":"pts"},"transform":[{"filter":"datum.p==4"}],"mark":{"type":"tick","orient":"horizontal","size":20.5,"thickness":1.4,"color":"#111","opacity":1},"encoding":{"x":{"field":"x","type":"quantitative","axis":null},"y":{"field":"y","type":"quantitative","axis":null}}},
{"data":{"name":"pts"},"transform":[{"filter":"datum.p==4"}],"mark":{"type":"square","size":45,"filled":true,"color":"#111","opacity":1,"clip":true},"encoding":{"x":{"field":"x","type":"quantitative","axis":{"orient":"bottom","values":[-1,-0.8,-0.6,-0.4,-0.2,0,0.2,0.4,0.6,0.8,1],"tickSize":-8,"labels":false,"title":null}},"y":{"field":"y","type":"quantitative","axis":null}}},
{"data":{"values":[{}]},"mark":{"type":"text","text":"pΛ Jackson frame","fontSize":34,"baseline":"middle","align":"center"},"encoding":{"x":{"datum":0.07,"axis":{"orient":"top","values":[-1,-0.95,-0.9,-0.85,-0.8,-0.75,-0.7,-0.65,-0.6,-0.55,-0.5,-0.45,-0.4,-0.35,-0.3,-0.25,-0.2,-0.15,-0.1,-0.05,0,0.05,0.1,0.15,0.2,0.25,0.3,0.35,0.4,0.45,0.5,0.55,0.6,0.65,0.7,0.75,0.8,0.85,0.9,0.95,1],"tickSize":-4,"labels":false,"title":null}},"y":{"datum":4.67,"axis":null}}},
{"data":{"values":[{}]},"mark":{"type":"text","text":"MC filter","fontSize":34,"baseline":"middle","align":"center"},"encoding":{"x":{"datum":0.61,"axis":null},"y":{"datum":0.84,"axis":null}}},
{"data":{"values":[{}]},"mark":{"type":"rule","color":"#f7bd00","strokeWidth":6,"clip":false},"encoding":{"x":{"datum":-1.395,"axis":null},"y":{"datum":3.26,"axis":null},"x2":{"datum":-0.935},"y2":{"datum":3.79}}},
{"data":{"values":[{}]},"mark":{"type":"point","shape":"triangle-right","filled":true,"color":"#f7bd00","opacity":1,"size":550,"angle":345.5},"encoding":{"x":{"datum":-0.935,"axis":null},"y":{"datum":3.79,"axis":null}}}
],"resolve":{"axis":{"x":"independent","y":"independent"}}},
{"width":411,"height":260,"layer":[
{"data":{"name":"mc"},"transform":[{"filter":"datum.p==5"}],"mark":{"type":"line","interpolate":"step-after","color":"#111","strokeWidth":1.4,"strokeDash":[9,6]},"encoding":{"x":{"field":"x","type":"quantitative","scale":{"domain":[-1,1],"nice":false,"zero":false},"axis":{"orient":"bottom","values":[-1,-0.95,-0.9,-0.85,-0.8,-0.75,-0.7,-0.65,-0.6,-0.55,-0.5,-0.45,-0.4,-0.35,-0.3,-0.25,-0.2,-0.15,-0.1,-0.05,0,0.05,0.1,0.15,0.2,0.25,0.3,0.35,0.4,0.45,0.5,0.55,0.6,0.65,0.7,0.75,0.8,0.85,0.9,0.95,1],"tickSize":-4,"labels":false,"title":null}},"y":{"field":"v","type":"quantitative","scale":{"domain":[0,5.5],"nice":false,"zero":false},"axis":{"orient":"left","values":[0,1,2,3,4,5],"tickSize":-6,"labels":false,"title":null}}}},
{"data":{"name":"pts"},"transform":[{"filter":"datum.p==5"}],"mark":{"type":"errorbar","ticks":{"size":8,"color":"#111"},"rule":{"color":"#111"},"thickness":1.3},"encoding":{"x":{"field":"x","type":"quantitative","axis":{"orient":"top","values":[-1,-0.8,-0.6,-0.4,-0.2,0,0.2,0.4,0.6,0.8,1],"tickSize":-8,"labels":false,"title":null}},"y":{"field":"y","type":"quantitative","axis":null},"yError":{"field":"e"}}},
{"data":{"name":"pts"},"transform":[{"filter":"datum.p==5"}],"mark":{"type":"tick","orient":"horizontal","size":20.5,"thickness":1.4,"color":"#111","opacity":1},"encoding":{"x":{"field":"x","type":"quantitative","axis":null},"y":{"field":"y","type":"quantitative","axis":null}}},
{"data":{"name":"pts"},"transform":[{"filter":"datum.p==5"}],"mark":{"type":"square","size":45,"filled":true,"color":"#111","opacity":1,"clip":true},"encoding":{"x":{"field":"x","type":"quantitative","axis":{"orient":"bottom","values":[-1,-0.8,-0.6,-0.4,-0.2,0,0.2,0.4,0.6,0.8,1],"tickSize":-8,"labels":false,"title":null}},"y":{"field":"y","type":"quantitative","axis":null}}},
{"data":{"values":[{}]},"mark":{"type":"text","text":"Kp Jackson frame","fontSize":34,"baseline":"middle","align":"center"},"encoding":{"x":{"datum":0.08,"axis":{"orient":"top","values":[-1,-0.95,-0.9,-0.85,-0.8,-0.75,-0.7,-0.65,-0.6,-0.55,-0.5,-0.45,-0.4,-0.35,-0.3,-0.25,-0.2,-0.15,-0.1,-0.05,0,0.05,0.1,0.15,0.2,0.25,0.3,0.35,0.4,0.45,0.5,0.55,0.6,0.65,0.7,0.75,0.8,0.85,0.9,0.95,1],"tickSize":-4,"labels":false,"title":null}},"y":{"datum":4.67,"axis":null}}}
],"resolve":{"axis":{"x":"independent","y":"independent"}}},
{"width":411,"height":260,"layer":[
{"data":{"name":"mc"},"transform":[{"filter":"datum.p==6"}],"mark":{"type":"line","interpolate":"step-after","color":"#111","strokeWidth":1.4,"strokeDash":[9,6]},"encoding":{"x":{"field":"x","type":"quantitative","scale":{"domain":[-1,1],"nice":false,"zero":false},"axis":{"orient":"bottom","values":[-1,-0.95,-0.9,-0.85,-0.8,-0.75,-0.7,-0.65,-0.6,-0.55,-0.5,-0.45,-0.4,-0.35,-0.3,-0.25,-0.2,-0.15,-0.1,-0.05,0,0.05,0.1,0.15,0.2,0.25,0.3,0.35,0.4,0.45,0.5,0.55,0.6,0.65,0.7,0.75,0.8,0.85,0.9,0.95,1],"tickSize":-4,"labels":false,"title":null}},"y":{"field":"v","type":"quantitative","scale":{"domain":[0,5.5],"nice":false,"zero":false},"axis":{"orient":"left","values":[0,1,2,3,4,5],"tickSize":-6,"labels":false,"title":null}}}},
{"data":{"name":"pts"},"transform":[{"filter":"datum.p==6"}],"mark":{"type":"errorbar","ticks":{"size":8,"color":"#111"},"rule":{"color":"#111"},"thickness":1.3},"encoding":{"x":{"field":"x","type":"quantitative","axis":{"orient":"top","values":[-1,-0.8,-0.6,-0.4,-0.2,0,0.2,0.4,0.6,0.8,1],"tickSize":-8,"labels":false,"title":null}},"y":{"field":"y","type":"quantitative","axis":null},"yError":{"field":"e"}}},
{"data":{"name":"pts"},"transform":[{"filter":"datum.p==6"}],"mark":{"type":"tick","orient":"horizontal","size":20.5,"thickness":1.4,"color":"#111","opacity":1},"encoding":{"x":{"field":"x","type":"quantitative","axis":null},"y":{"field":"y","type":"quantitative","axis":null}}},
{"data":{"name":"pts"},"transform":[{"filter":"datum.p==6"}],"mark":{"type":"square","size":45,"filled":true,"color":"#111","opacity":1,"clip":true},"encoding":{"x":{"field":"x","type":"quantitative","axis":{"orient":"bottom","values":[-1,-0.8,-0.6,-0.4,-0.2,0,0.2,0.4,0.6,0.8,1],"tickSize":-8,"labels":false,"title":null}},"y":{"field":"y","type":"quantitative","axis":{"orient":"right","values":[0,1,2,3,4,5],"tickSize":-6,"labels":false,"title":null}}}},
{"data":{"values":[{}]},"mark":{"type":"text","text":"KΛ Jackson frame","fontSize":34,"baseline":"middle","align":"center"},"encoding":{"x":{"datum":0.09,"axis":{"orient":"top","values":[-1,-0.95,-0.9,-0.85,-0.8,-0.75,-0.7,-0.65,-0.6,-0.55,-0.5,-0.45,-0.4,-0.35,-0.3,-0.25,-0.2,-0.15,-0.1,-0.05,0,0.05,0.1,0.15,0.2,0.25,0.3,0.35,0.4,0.45,0.5,0.55,0.6,0.65,0.7,0.75,0.8,0.85,0.9,0.95,1],"tickSize":-4,"labels":false,"title":null}},"y":{"datum":4.67,"axis":null}}},
{"data":{"values":[{}]},"mark":{"type":"rule","color":"#f7bd00","strokeWidth":6,"clip":false},"encoding":{"x":{"datum":1.078,"axis":null},"y":{"datum":3.046,"axis":null},"x2":{"datum":0.781},"y2":{"datum":3.647}}},
{"data":{"values":[{}]},"mark":{"type":"point","shape":"triangle-right","filled":true,"color":"#f7bd00","opacity":1,"size":550,"angle":204.9},"encoding":{"x":{"datum":0.781,"axis":null},"y":{"datum":3.647,"axis":null}}}
],"resolve":{"axis":{"x":"independent","y":"independent"}}},
{"width":411,"height":88,"layer":[
{"data":{"values":[{}]},"mark":{"type":"rule","strokeDash":[4,4],"color":"#111","strokeWidth":1.2},"encoding":{"y":{"datum":10,"scale":{"domain":[0,30],"nice":false,"zero":false},"axis":null}}},
{"data":{"values":[{}]},"mark":{"type":"rule","strokeDash":[4,4],"color":"#111","strokeWidth":1.2},"encoding":{"y":{"datum":20,"axis":null}}},
{"data":{"name":"acc"},"transform":[{"filter":"datum.p==4"}],"mark":{"type":"errorbar","ticks":{"size":6,"color":"#111"},"rule":{"color":"#111"},"thickness":1.3},"encoding":{"x":{"field":"x","type":"quantitative","scale":{"domain":[-1,1],"nice":false,"zero":false},"axis":null},"y":{"field":"a","type":"quantitative","axis":null},"yError":{"field":"e"}}},
{"data":{"name":"acc"},"transform":[{"filter":"datum.p==4"}],"mark":{"type":"tick","orient":"horizontal","size":20.5,"thickness":1.4,"color":"#111","opacity":1},"encoding":{"x":{"field":"x","type":"quantitative","axis":null},"y":{"field":"a","type":"quantitative","axis":null}}},
{"data":{"name":"acc"},"transform":[{"filter":"datum.p==4"}],"mark":{"type":"square","size":24,"filled":true,"color":"#111","opacity":1},"encoding":{"x":{"field":"x","type":"quantitative","axis":{"orient":"bottom","values":[-1,-0.5,0,0.5,1],"ticks":false,"labelPadding":1,"labelExpr":"datum.value==-1 ? '-1' : datum.value==-0.5 ? '-0.5' : datum.value==0 ? '0' : datum.value==0.5 ? '0.5' : ''","title":null}},"y":{"field":"a","type":"quantitative","scale":{"domain":[0,30],"nice":false,"zero":false},"axis":{"orient":"left","values":[0,5,10,15,20,25,30],"tickSize":-6,"labelPadding":15,"labelExpr":"datum.value==0||datum.value==10||datum.value==20 ? datum.label : ''","title":"A (‰)","titleX":-40,"titleBaseline":"bottom"}}}},
{"data":{"values":[{}]},"mark":{"type":"text","text":"cosθ","fontSize":30,"align":"right","baseline":"alphabetic","dy":61},"encoding":{"x":{"datum":0.602,"axis":{"orient":"bottom","values":[-1,-0.95,-0.9,-0.85,-0.8,-0.75,-0.7,-0.65,-0.6,-0.55,-0.5,-0.45,-0.4,-0.35,-0.3,-0.25,-0.2,-0.15,-0.1,-0.05,0,0.05,0.1,0.15,0.2,0.25,0.3,0.35,0.4,0.45,0.5,0.55,0.6,0.65,0.7,0.75,0.8,0.85,0.9,0.95,1],"tickSize":-4,"labels":false,"title":null}},"y":{"datum":0,"axis":null}}},
{"data":{"values":[{}]},"mark":{"type":"text","text":"RpΛ","fontSize":20,"align":"left","baseline":"alphabetic","dy":45},"encoding":{"x":{"datum":0.617,"axis":{"orient":"bottom","values":[-1,-0.8,-0.6,-0.4,-0.2,0,0.2,0.4,0.6,0.8,1],"tickSize":-8,"labels":false,"title":null}},"y":{"datum":0,"axis":null}}},
{"data":{"values":[{}]},"mark":{"type":"text","text":"bp","fontSize":20,"align":"left","baseline":"alphabetic","dy":71},"encoding":{"x":{"datum":0.617,"axis":null},"y":{"datum":0,"axis":null}}}
],"resolve":{"axis":{"x":"independent","y":"independent"}}},
{"width":411,"height":88,"layer":[
{"data":{"values":[{}]},"mark":{"type":"rule","strokeDash":[4,4],"color":"#111","strokeWidth":1.2},"encoding":{"y":{"datum":10,"scale":{"domain":[0,30],"nice":false,"zero":false},"axis":null}}},
{"data":{"values":[{}]},"mark":{"type":"rule","strokeDash":[4,4],"color":"#111","strokeWidth":1.2},"encoding":{"y":{"datum":20,"axis":null}}},
{"data":{"name":"acc"},"transform":[{"filter":"datum.p==5"}],"mark":{"type":"errorbar","ticks":{"size":6,"color":"#111"},"rule":{"color":"#111"},"thickness":1.3},"encoding":{"x":{"field":"x","type":"quantitative","scale":{"domain":[-1,1],"nice":false,"zero":false},"axis":null},"y":{"field":"a","type":"quantitative","axis":null},"yError":{"field":"e"}}},
{"data":{"name":"acc"},"transform":[{"filter":"datum.p==5"}],"mark":{"type":"tick","orient":"horizontal","size":20.5,"thickness":1.4,"color":"#111","opacity":1},"encoding":{"x":{"field":"x","type":"quantitative","axis":null},"y":{"field":"a","type":"quantitative","axis":null}}},
{"data":{"name":"acc"},"transform":[{"filter":"datum.p==5"}],"mark":{"type":"square","size":24,"filled":true,"color":"#111","opacity":1},"encoding":{"x":{"field":"x","type":"quantitative","axis":{"orient":"bottom","values":[-1,-0.5,0,0.5,1],"ticks":false,"labelPadding":1,"labelExpr":"datum.value==-1 ? '1' : datum.value==-0.5 ? '-0.5' : datum.value==0 ? '0' : datum.value==0.5 ? '0.5' : ''","title":null}},"y":{"field":"a","type":"quantitative","scale":{"domain":[0,30],"nice":false,"zero":false},"axis":{"orient":"left","values":[0,5,10,15,20,25,30],"tickSize":-6,"labels":false,"title":null}}}},
{"data":{"values":[{}]},"mark":{"type":"text","text":"cosθ","fontSize":30,"align":"right","baseline":"alphabetic","dy":61},"encoding":{"x":{"datum":0.588,"axis":{"orient":"bottom","values":[-1,-0.95,-0.9,-0.85,-0.8,-0.75,-0.7,-0.65,-0.6,-0.55,-0.5,-0.45,-0.4,-0.35,-0.3,-0.25,-0.2,-0.15,-0.1,-0.05,0,0.05,0.1,0.15,0.2,0.25,0.3,0.35,0.4,0.45,0.5,0.55,0.6,0.65,0.7,0.75,0.8,0.85,0.9,0.95,1],"tickSize":-4,"labels":false,"title":null}},"y":{"datum":0,"axis":null}}},
{"data":{"values":[{}]},"mark":{"type":"text","text":"RKp","fontSize":20,"align":"left","baseline":"alphabetic","dy":45},"encoding":{"x":{"datum":0.603,"axis":{"orient":"bottom","values":[-1,-0.8,-0.6,-0.4,-0.2,0,0.2,0.4,0.6,0.8,1],"tickSize":-8,"labels":false,"title":null}},"y":{"datum":0,"axis":null}}},
{"data":{"values":[{}]},"mark":{"type":"text","text":"bK","fontSize":20,"align":"left","baseline":"alphabetic","dy":71},"encoding":{"x":{"datum":0.603,"axis":null},"y":{"datum":0,"axis":null}}}
],"resolve":{"axis":{"x":"independent","y":"independent"}}},
{"width":411,"height":88,"layer":[
{"data":{"values":[{}]},"mark":{"type":"rule","strokeDash":[4,4],"color":"#111","strokeWidth":1.2},"encoding":{"y":{"datum":10,"scale":{"domain":[0,30],"nice":false,"zero":false},"axis":null}}},
{"data":{"values":[{}]},"mark":{"type":"rule","strokeDash":[4,4],"color":"#111","strokeWidth":1.2},"encoding":{"y":{"datum":20,"axis":null}}},
{"data":{"name":"acc"},"transform":[{"filter":"datum.p==6"}],"mark":{"type":"errorbar","ticks":{"size":6,"color":"#111"},"rule":{"color":"#111"},"thickness":1.3},"encoding":{"x":{"field":"x","type":"quantitative","scale":{"domain":[-1,1],"nice":false,"zero":false},"axis":null},"y":{"field":"a","type":"quantitative","axis":null},"yError":{"field":"e"}}},
{"data":{"name":"acc"},"transform":[{"filter":"datum.p==6"}],"mark":{"type":"tick","orient":"horizontal","size":20.5,"thickness":1.4,"color":"#111","opacity":1},"encoding":{"x":{"field":"x","type":"quantitative","axis":null},"y":{"field":"a","type":"quantitative","axis":null}}},
{"data":{"name":"acc"},"transform":[{"filter":"datum.p==6"}],"mark":{"type":"square","size":24,"filled":true,"color":"#111","opacity":1},"encoding":{"x":{"field":"x","type":"quantitative","axis":{"orient":"bottom","values":[-1,-0.5,0,0.5,1],"ticks":false,"labelPadding":1,"labelExpr":"datum.value==-1 ? '1' : datum.value==-0.5 ? '-0.5' : datum.value==0 ? '0' : datum.value==0.5 ? '0.5' : '1'","title":null}},"y":{"field":"a","type":"quantitative","scale":{"domain":[0,30],"nice":false,"zero":false},"axis":{"orient":"left","values":[0,5,10,15,20,25,30],"tickSize":-6,"labels":false,"title":null}}}},
{"data":{"values":[{}]},"mark":{"type":"text","text":"cosθ","fontSize":30,"align":"right","baseline":"alphabetic","dy":61},"encoding":{"x":{"datum":0.567,"axis":{"orient":"bottom","values":[-1,-0.95,-0.9,-0.85,-0.8,-0.75,-0.7,-0.65,-0.6,-0.55,-0.5,-0.45,-0.4,-0.35,-0.3,-0.25,-0.2,-0.15,-0.1,-0.05,0,0.05,0.1,0.15,0.2,0.25,0.3,0.35,0.4,0.45,0.5,0.55,0.6,0.65,0.7,0.75,0.8,0.85,0.9,0.95,1],"tickSize":-4,"labels":false,"title":null}},"y":{"datum":0,"axis":{"orient":"right","values":[0,5,10,15,20,25,30],"tickSize":-6,"labels":false,"title":null}}}},
{"data":{"values":[{}]},"mark":{"type":"text","text":"RKΛ","fontSize":20,"align":"left","baseline":"alphabetic","dy":45},"encoding":{"x":{"datum":0.582,"axis":{"orient":"bottom","values":[-1,-0.8,-0.6,-0.4,-0.2,0,0.2,0.4,0.6,0.8,1],"tickSize":-8,"labels":false,"title":null}},"y":{"datum":0,"axis":null}}},
{"data":{"values":[{}]},"mark":{"type":"text","text":"bK","fontSize":20,"align":"left","baseline":"alphabetic","dy":71},"encoding":{"x":{"datum":0.582,"axis":null},"y":{"datum":0,"axis":null}}}
],"resolve":{"axis":{"x":"independent","y":"independent"}}},
{"width":411,"height":86,"data":{"values":[]},"mark":"point","view":{"stroke":null}},
{"width":411,"height":86,"data":{"values":[]},"mark":"point","view":{"stroke":null}},
{"width":411,"height":86,"data":{"values":[]},"mark":"point","view":{"stroke":null}},
{"width":411,"height":259,"layer":[
{"data":{"name":"mc"},"transform":[{"filter":"datum.p==7"}],"mark":{"type":"line","interpolate":"step-after","color":"#111","strokeWidth":1.4,"strokeDash":[9,6]},"encoding":{"x":{"field":"x","type":"quantitative","scale":{"domain":[-1,1],"nice":false,"zero":false},"axis":{"orient":"bottom","values":[-1,-0.95,-0.9,-0.85,-0.8,-0.75,-0.7,-0.65,-0.6,-0.55,-0.5,-0.45,-0.4,-0.35,-0.3,-0.25,-0.2,-0.15,-0.1,-0.05,0,0.05,0.1,0.15,0.2,0.25,0.3,0.35,0.4,0.45,0.5,0.55,0.6,0.65,0.7,0.75,0.8,0.85,0.9,0.95,1],"tickSize":-4,"labels":false,"title":null}},"y":{"field":"v","type":"quantitative","scale":{"domain":[0,5.5],"nice":false,"zero":false},"axis":{"orient":"left","values":[0,1,2,3,4,5],"tickSize":-6,"labelPadding":15,"labelExpr":"datum.value%2==0 ? datum.label : ''","title":"dσ/dΩ (μb/sr)","titleX":-40,"titleBaseline":"bottom"}}}},
{"data":{"name":"pts"},"transform":[{"filter":"datum.p==7"}],"mark":{"type":"errorbar","ticks":{"size":8,"color":"#111"},"rule":{"color":"#111"},"thickness":1.3},"encoding":{"x":{"field":"x","type":"quantitative","axis":{"orient":"top","values":[-1,-0.8,-0.6,-0.4,-0.2,0,0.2,0.4,0.6,0.8,1],"tickSize":-8,"labels":false,"title":null}},"y":{"field":"y","type":"quantitative","axis":null},"yError":{"field":"e"}}},
{"data":{"name":"pts"},"transform":[{"filter":"datum.p==7"}],"mark":{"type":"tick","orient":"horizontal","size":20.5,"thickness":1.4,"color":"#111","opacity":1},"encoding":{"x":{"field":"x","type":"quantitative","axis":null},"y":{"field":"y","type":"quantitative","axis":null}}},
{"data":{"name":"pts"},"transform":[{"filter":"datum.p==7"}],"mark":{"type":"square","size":45,"filled":true,"color":"#111","opacity":1,"clip":true},"encoding":{"x":{"field":"x","type":"quantitative","axis":{"orient":"bottom","values":[-1,-0.8,-0.6,-0.4,-0.2,0,0.2,0.4,0.6,0.8,1],"tickSize":-8,"labels":false,"title":null}},"y":{"field":"y","type":"quantitative","axis":null}}},
{"data":{"values":[{}]},"mark":{"type":"text","text":"pΛ helicity frame","fontSize":34,"baseline":"middle","align":"center"},"encoding":{"x":{"datum":0.1,"axis":{"orient":"top","values":[-1,-0.95,-0.9,-0.85,-0.8,-0.75,-0.7,-0.65,-0.6,-0.55,-0.5,-0.45,-0.4,-0.35,-0.3,-0.25,-0.2,-0.15,-0.1,-0.05,0,0.05,0.1,0.15,0.2,0.25,0.3,0.35,0.4,0.45,0.5,0.55,0.6,0.65,0.7,0.75,0.8,0.85,0.9,0.95,1],"tickSize":-4,"labels":false,"title":null}},"y":{"datum":4.6,"axis":null}}}
],"resolve":{"axis":{"x":"independent","y":"independent"}}},
{"width":411,"height":259,"layer":[
{"data":{"name":"mc"},"transform":[{"filter":"datum.p==8"}],"mark":{"type":"line","interpolate":"step-after","color":"#111","strokeWidth":1.4,"strokeDash":[9,6]},"encoding":{"x":{"field":"x","type":"quantitative","scale":{"domain":[-1,1],"nice":false,"zero":false},"axis":{"orient":"bottom","values":[-1,-0.95,-0.9,-0.85,-0.8,-0.75,-0.7,-0.65,-0.6,-0.55,-0.5,-0.45,-0.4,-0.35,-0.3,-0.25,-0.2,-0.15,-0.1,-0.05,0,0.05,0.1,0.15,0.2,0.25,0.3,0.35,0.4,0.45,0.5,0.55,0.6,0.65,0.7,0.75,0.8,0.85,0.9,0.95,1],"tickSize":-4,"labels":false,"title":null}},"y":{"field":"v","type":"quantitative","scale":{"domain":[0,5.5],"nice":false,"zero":false},"axis":{"orient":"left","values":[0,1,2,3,4,5],"tickSize":-6,"labels":false,"title":null}}}},
{"data":{"name":"pts"},"transform":[{"filter":"datum.p==8"}],"mark":{"type":"errorbar","ticks":{"size":8,"color":"#111"},"rule":{"color":"#111"},"thickness":1.3},"encoding":{"x":{"field":"x","type":"quantitative","axis":{"orient":"top","values":[-1,-0.8,-0.6,-0.4,-0.2,0,0.2,0.4,0.6,0.8,1],"tickSize":-8,"labels":false,"title":null}},"y":{"field":"y","type":"quantitative","axis":null},"yError":{"field":"e"}}},
{"data":{"name":"pts"},"transform":[{"filter":"datum.p==8"}],"mark":{"type":"tick","orient":"horizontal","size":20.5,"thickness":1.4,"color":"#111","opacity":1},"encoding":{"x":{"field":"x","type":"quantitative","axis":null},"y":{"field":"y","type":"quantitative","axis":null}}},
{"data":{"name":"pts"},"transform":[{"filter":"datum.p==8"}],"mark":{"type":"square","size":45,"filled":true,"color":"#111","opacity":1,"clip":true},"encoding":{"x":{"field":"x","type":"quantitative","axis":{"orient":"bottom","values":[-1,-0.8,-0.6,-0.4,-0.2,0,0.2,0.4,0.6,0.8,1],"tickSize":-8,"labels":false,"title":null}},"y":{"field":"y","type":"quantitative","axis":null}}},
{"data":{"values":[{}]},"mark":{"type":"text","text":"Kp helicity frame","fontSize":34,"baseline":"middle","align":"center"},"encoding":{"x":{"datum":0.1,"axis":{"orient":"top","values":[-1,-0.95,-0.9,-0.85,-0.8,-0.75,-0.7,-0.65,-0.6,-0.55,-0.5,-0.45,-0.4,-0.35,-0.3,-0.25,-0.2,-0.15,-0.1,-0.05,0,0.05,0.1,0.15,0.2,0.25,0.3,0.35,0.4,0.45,0.5,0.55,0.6,0.65,0.7,0.75,0.8,0.85,0.9,0.95,1],"tickSize":-4,"labels":false,"title":null}},"y":{"datum":4.6,"axis":null}}}
],"resolve":{"axis":{"x":"independent","y":"independent"}}},
{"width":411,"height":259,"layer":[
{"data":{"name":"mc"},"transform":[{"filter":"datum.p==9"}],"mark":{"type":"line","interpolate":"step-after","color":"#111","strokeWidth":1.4,"strokeDash":[9,6]},"encoding":{"x":{"field":"x","type":"quantitative","scale":{"domain":[-1,1],"nice":false,"zero":false},"axis":{"orient":"bottom","values":[-1,-0.95,-0.9,-0.85,-0.8,-0.75,-0.7,-0.65,-0.6,-0.55,-0.5,-0.45,-0.4,-0.35,-0.3,-0.25,-0.2,-0.15,-0.1,-0.05,0,0.05,0.1,0.15,0.2,0.25,0.3,0.35,0.4,0.45,0.5,0.55,0.6,0.65,0.7,0.75,0.8,0.85,0.9,0.95,1],"tickSize":-4,"labels":false,"title":null}},"y":{"field":"v","type":"quantitative","scale":{"domain":[0,5.5],"nice":false,"zero":false},"axis":{"orient":"left","values":[0,1,2,3,4,5],"tickSize":-6,"labels":false,"title":null}}}},
{"data":{"name":"pts"},"transform":[{"filter":"datum.p==9"}],"mark":{"type":"errorbar","ticks":{"size":8,"color":"#111"},"rule":{"color":"#111"},"thickness":1.3},"encoding":{"x":{"field":"x","type":"quantitative","axis":{"orient":"top","values":[-1,-0.8,-0.6,-0.4,-0.2,0,0.2,0.4,0.6,0.8,1],"tickSize":-8,"labels":false,"title":null}},"y":{"field":"y","type":"quantitative","axis":null},"yError":{"field":"e"}}},
{"data":{"name":"pts"},"transform":[{"filter":"datum.p==9"}],"mark":{"type":"tick","orient":"horizontal","size":20.5,"thickness":1.4,"color":"#111","opacity":1},"encoding":{"x":{"field":"x","type":"quantitative","axis":null},"y":{"field":"y","type":"quantitative","axis":null}}},
{"data":{"name":"pts"},"transform":[{"filter":"datum.p==9"}],"mark":{"type":"square","size":45,"filled":true,"color":"#111","opacity":1,"clip":true},"encoding":{"x":{"field":"x","type":"quantitative","axis":{"orient":"bottom","values":[-1,-0.8,-0.6,-0.4,-0.2,0,0.2,0.4,0.6,0.8,1],"tickSize":-8,"labels":false,"title":null}},"y":{"field":"y","type":"quantitative","axis":{"orient":"right","values":[0,1,2,3,4,5],"tickSize":-6,"labels":false,"title":null}}}},
{"data":{"values":[{}]},"mark":{"type":"text","text":"KΛ helicity frame","fontSize":34,"baseline":"middle","align":"center"},"encoding":{"x":{"datum":0.11,"axis":{"orient":"top","values":[-1,-0.95,-0.9,-0.85,-0.8,-0.75,-0.7,-0.65,-0.6,-0.55,-0.5,-0.45,-0.4,-0.35,-0.3,-0.25,-0.2,-0.15,-0.1,-0.05,0,0.05,0.1,0.15,0.2,0.25,0.3,0.35,0.4,0.45,0.5,0.55,0.6,0.65,0.7,0.75,0.8,0.85,0.9,0.95,1],"tickSize":-4,"labels":false,"title":null}},"y":{"datum":4.6,"axis":null}}},
{"data":{"values":[{}]},"mark":{"type":"rule","color":"#f7bd00","strokeWidth":6,"clip":false},"encoding":{"x":{"datum":1.136,"axis":null},"y":{"datum":1.932,"axis":null},"x2":{"datum":0.989},"y2":{"datum":2.27}}},
{"data":{"values":[{}]},"mark":{"type":"point","shape":"triangle-right","filled":true,"color":"#f7bd00","opacity":1,"size":550,"angle":207.7},"encoding":{"x":{"datum":0.989,"axis":null},"y":{"datum":2.27,"axis":null}}}
],"resolve":{"axis":{"x":"independent","y":"independent"}}},
{"width":411,"height":90,"layer":[
{"data":{"values":[{}]},"mark":{"type":"rule","strokeDash":[4,4],"color":"#111","strokeWidth":1.2},"encoding":{"y":{"datum":10,"scale":{"domain":[0,30],"nice":false,"zero":false},"axis":null}}},
{"data":{"values":[{}]},"mark":{"type":"rule","strokeDash":[4,4],"color":"#111","strokeWidth":1.2},"encoding":{"y":{"datum":20,"axis":null}}},
{"data":{"name":"acc"},"transform":[{"filter":"datum.p==7"}],"mark":{"type":"errorbar","ticks":{"size":6,"color":"#111"},"rule":{"color":"#111"},"thickness":1.3},"encoding":{"x":{"field":"x","type":"quantitative","scale":{"domain":[-1,1],"nice":false,"zero":false},"axis":null},"y":{"field":"a","type":"quantitative","axis":null},"yError":{"field":"e"}}},
{"data":{"name":"acc"},"transform":[{"filter":"datum.p==7"}],"mark":{"type":"tick","orient":"horizontal","size":20.5,"thickness":1.4,"color":"#111","opacity":1},"encoding":{"x":{"field":"x","type":"quantitative","axis":null},"y":{"field":"a","type":"quantitative","axis":null}}},
{"data":{"name":"acc"},"transform":[{"filter":"datum.p==7"}],"mark":{"type":"square","size":24,"filled":true,"color":"#111","opacity":1},"encoding":{"x":{"field":"x","type":"quantitative","axis":{"orient":"bottom","values":[-1,-0.5,0,0.5,1],"ticks":false,"labelPadding":1,"labelExpr":"datum.value==-1 ? '-1' : datum.value==-0.5 ? '-0.5' : datum.value==0 ? '0' : datum.value==0.5 ? '0.5' : ''","title":null}},"y":{"field":"a","type":"quantitative","scale":{"domain":[0,30],"nice":false,"zero":false},"axis":{"orient":"left","values":[0,5,10,15,20,25,30],"tickSize":-6,"labelPadding":15,"labelExpr":"datum.value==0||datum.value==10||datum.value==20 ? datum.label : ''","title":"A (‰)","titleX":-40,"titleBaseline":"bottom"}}}},
{"data":{"values":[{}]},"mark":{"type":"text","text":"cosθ","fontSize":30,"align":"right","baseline":"alphabetic","dy":63},"encoding":{"x":{"datum":0.602,"axis":{"orient":"bottom","values":[-1,-0.95,-0.9,-0.85,-0.8,-0.75,-0.7,-0.65,-0.6,-0.55,-0.5,-0.45,-0.4,-0.35,-0.3,-0.25,-0.2,-0.15,-0.1,-0.05,0,0.05,0.1,0.15,0.2,0.25,0.3,0.35,0.4,0.45,0.5,0.55,0.6,0.65,0.7,0.75,0.8,0.85,0.9,0.95,1],"tickSize":-4,"labels":false,"title":null}},"y":{"datum":0,"axis":null}}},
{"data":{"values":[{}]},"mark":{"type":"text","text":"RpΛ","fontSize":20,"align":"left","baseline":"alphabetic","dy":48},"encoding":{"x":{"datum":0.617,"axis":{"orient":"bottom","values":[-1,-0.8,-0.6,-0.4,-0.2,0,0.2,0.4,0.6,0.8,1],"tickSize":-8,"labels":false,"title":null}},"y":{"datum":0,"axis":null}}},
{"data":{"values":[{}]},"mark":{"type":"text","text":"Kp","fontSize":20,"align":"left","baseline":"alphabetic","dy":73},"encoding":{"x":{"datum":0.617,"axis":null},"y":{"datum":0,"axis":null}}}
],"resolve":{"axis":{"x":"independent","y":"independent"}}},
{"width":411,"height":90,"layer":[
{"data":{"values":[{}]},"mark":{"type":"rule","strokeDash":[4,4],"color":"#111","strokeWidth":1.2},"encoding":{"y":{"datum":10,"scale":{"domain":[0,30],"nice":false,"zero":false},"axis":null}}},
{"data":{"values":[{}]},"mark":{"type":"rule","strokeDash":[4,4],"color":"#111","strokeWidth":1.2},"encoding":{"y":{"datum":20,"axis":null}}},
{"data":{"name":"acc"},"transform":[{"filter":"datum.p==8"}],"mark":{"type":"errorbar","ticks":{"size":6,"color":"#111"},"rule":{"color":"#111"},"thickness":1.3},"encoding":{"x":{"field":"x","type":"quantitative","scale":{"domain":[-1,1],"nice":false,"zero":false},"axis":null},"y":{"field":"a","type":"quantitative","axis":null},"yError":{"field":"e"}}},
{"data":{"name":"acc"},"transform":[{"filter":"datum.p==8"}],"mark":{"type":"tick","orient":"horizontal","size":20.5,"thickness":1.4,"color":"#111","opacity":1},"encoding":{"x":{"field":"x","type":"quantitative","axis":null},"y":{"field":"a","type":"quantitative","axis":null}}},
{"data":{"name":"acc"},"transform":[{"filter":"datum.p==8"}],"mark":{"type":"square","size":24,"filled":true,"color":"#111","opacity":1},"encoding":{"x":{"field":"x","type":"quantitative","axis":{"orient":"bottom","values":[-1,-0.5,0,0.5,1],"ticks":false,"labelPadding":1,"labelExpr":"datum.value==-1 ? '1' : datum.value==-0.5 ? '-0.5' : datum.value==0 ? '0' : datum.value==0.5 ? '0.5' : ''","title":null}},"y":{"field":"a","type":"quantitative","scale":{"domain":[0,30],"nice":false,"zero":false},"axis":{"orient":"left","values":[0,5,10,15,20,25,30],"tickSize":-6,"labels":false,"title":null}}}},
{"data":{"values":[{}]},"mark":{"type":"text","text":"cosθ","fontSize":30,"align":"right","baseline":"alphabetic","dy":63},"encoding":{"x":{"datum":0.588,"axis":{"orient":"bottom","values":[-1,-0.95,-0.9,-0.85,-0.8,-0.75,-0.7,-0.65,-0.6,-0.55,-0.5,-0.45,-0.4,-0.35,-0.3,-0.25,-0.2,-0.15,-0.1,-0.05,0,0.05,0.1,0.15,0.2,0.25,0.3,0.35,0.4,0.45,0.5,0.55,0.6,0.65,0.7,0.75,0.8,0.85,0.9,0.95,1],"tickSize":-4,"labels":false,"title":null}},"y":{"datum":0,"axis":null}}},
{"data":{"values":[{}]},"mark":{"type":"text","text":"RKp","fontSize":20,"align":"left","baseline":"alphabetic","dy":48},"encoding":{"x":{"datum":0.603,"axis":{"orient":"bottom","values":[-1,-0.8,-0.6,-0.4,-0.2,0,0.2,0.4,0.6,0.8,1],"tickSize":-8,"labels":false,"title":null}},"y":{"datum":0,"axis":null}}},
{"data":{"values":[{}]},"mark":{"type":"text","text":"ΛK","fontSize":20,"align":"left","baseline":"alphabetic","dy":73},"encoding":{"x":{"datum":0.603,"axis":null},"y":{"datum":0,"axis":null}}}
],"resolve":{"axis":{"x":"independent","y":"independent"}}},
{"width":411,"height":90,"layer":[
{"data":{"values":[{}]},"mark":{"type":"rule","strokeDash":[4,4],"color":"#111","strokeWidth":1.2},"encoding":{"y":{"datum":10,"scale":{"domain":[0,30],"nice":false,"zero":false},"axis":null}}},
{"data":{"values":[{}]},"mark":{"type":"rule","strokeDash":[4,4],"color":"#111","strokeWidth":1.2},"encoding":{"y":{"datum":20,"axis":null}}},
{"data":{"name":"acc"},"transform":[{"filter":"datum.p==9"}],"mark":{"type":"errorbar","ticks":{"size":6,"color":"#111"},"rule":{"color":"#111"},"thickness":1.3},"encoding":{"x":{"field":"x","type":"quantitative","scale":{"domain":[-1,1],"nice":false,"zero":false},"axis":null},"y":{"field":"a","type":"quantitative","axis":null},"yError":{"field":"e"}}},
{"data":{"name":"acc"},"transform":[{"filter":"datum.p==9"}],"mark":{"type":"tick","orient":"horizontal","size":20.5,"thickness":1.4,"color":"#111","opacity":1},"encoding":{"x":{"field":"x","type":"quantitative","axis":null},"y":{"field":"a","type":"quantitative","axis":null}}},
{"data":{"name":"acc"},"transform":[{"filter":"datum.p==9"}],"mark":{"type":"square","size":24,"filled":true,"color":"#111","opacity":1},"encoding":{"x":{"field":"x","type":"quantitative","axis":{"orient":"bottom","values":[-1,-0.5,0,0.5,1],"ticks":false,"labelPadding":1,"labelExpr":"datum.value==-1 ? '1' : datum.value==-0.5 ? '-0.5' : datum.value==0 ? '0' : datum.value==0.5 ? '0.5' : '1'","title":null}},"y":{"field":"a","type":"quantitative","scale":{"domain":[0,30],"nice":false,"zero":false},"axis":{"orient":"left","values":[0,5,10,15,20,25,30],"tickSize":-6,"labels":false,"title":null}}}},
{"data":{"values":[{}]},"mark":{"type":"text","text":"cosθ","fontSize":30,"align":"right","baseline":"alphabetic","dy":63},"encoding":{"x":{"datum":0.577,"axis":{"orient":"bottom","values":[-1,-0.95,-0.9,-0.85,-0.8,-0.75,-0.7,-0.65,-0.6,-0.55,-0.5,-0.45,-0.4,-0.35,-0.3,-0.25,-0.2,-0.15,-0.1,-0.05,0,0.05,0.1,0.15,0.2,0.25,0.3,0.35,0.4,0.45,0.5,0.55,0.6,0.65,0.7,0.75,0.8,0.85,0.9,0.95,1],"tickSize":-4,"labels":false,"title":null}},"y":{"datum":0,"axis":{"orient":"right","values":[0,5,10,15,20,25,30],"tickSize":-6,"labels":false,"title":null}}}},
{"data":{"values":[{}]},"mark":{"type":"text","text":"RKΛ","fontSize":20,"align":"left","baseline":"alphabetic","dy":48},"encoding":{"x":{"datum":0.592,"axis":{"orient":"bottom","values":[-1,-0.8,-0.6,-0.4,-0.2,0,0.2,0.4,0.6,0.8,1],"tickSize":-8,"labels":false,"title":null}},"y":{"datum":0,"axis":null}}},
{"data":{"values":[{}]},"mark":{"type":"text","text":"pΛ","fontSize":20,"align":"left","baseline":"alphabetic","dy":73},"encoding":{"x":{"datum":0.592,"axis":null},"y":{"datum":0,"axis":null}}}
],"resolve":{"axis":{"x":"independent","y":"independent"}}}
],
"columns":3,"spacing":0,"bounds":"flush"
}
